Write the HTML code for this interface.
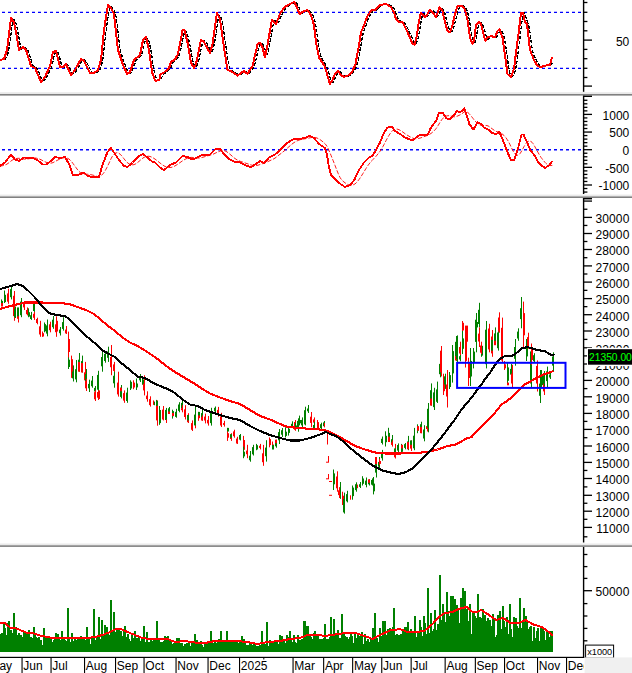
<!DOCTYPE html>
<html><head><meta charset="utf-8"><title>Chart</title>
<style>html,body{margin:0;padding:0;background:#fff;font-family:"Liberation Sans",sans-serif;}svg{display:block}</style></head>
<body>
<svg width="632" height="673" viewBox="0 0 632 673" font-family="'Liberation Sans', sans-serif">
<rect x="0" y="0" width="632" height="673" fill="#fff"/>
<rect x="582.9" y="0.0" width="1.4" height="91.8" fill="#000"/>
<rect x="583.5" y="1.85" width="3.9" height="1.3" fill="#000"/>
<rect x="583.5" y="11.65" width="3.9" height="1.3" fill="#000"/>
<rect x="583.5" y="20.85" width="3.9" height="1.3" fill="#000"/>
<rect x="583.5" y="30.15" width="3.9" height="1.3" fill="#000"/>
<rect x="583.5" y="39.45" width="8.5" height="1.3" fill="#000"/>
<rect x="583.5" y="48.75" width="3.9" height="1.3" fill="#000"/>
<rect x="583.5" y="58.05" width="3.9" height="1.3" fill="#000"/>
<rect x="583.5" y="67.65" width="3.9" height="1.3" fill="#000"/>
<rect x="583.5" y="76.85" width="3.9" height="1.3" fill="#000"/>
<rect x="583.5" y="85.45" width="8.5" height="1.3" fill="#000"/>
<text x="629.3" y="45.8" font-size="12" text-anchor="end" fill="#000" >50</text>
<line x1="2" y1="12.4" x2="581.0" y2="12.4" stroke="#0000ff" stroke-width="1.4" stroke-dasharray="3,3"/>
<line x1="2" y1="68.4" x2="581.0" y2="68.4" stroke="#0000ff" stroke-width="1.4" stroke-dasharray="3,3"/>
<polyline points="0.0,60.0 1.0,60.0 2.0,59.9 3.0,59.8 4.0,59.5 5.0,59.2 6.0,58.1 7.0,56.0 8.0,53.0 9.0,48.3 10.0,42.0 11.0,34.0 12.0,26.0 13.0,21.1 14.0,19.3 15.0,20.7 16.0,23.3 17.0,27.3 18.0,32.7 19.0,38.2 20.0,44.0 21.0,47.8 22.0,49.2 23.0,48.5 24.0,47.8 25.0,47.6 26.0,48.0 27.0,49.0 28.0,50.7 29.0,53.2 30.0,56.4 31.0,59.6 32.0,62.8 33.0,65.1 34.0,66.5 35.0,67.0 36.0,67.5 37.0,68.6 38.0,70.3 39.0,72.7 40.0,75.0 41.0,77.3 42.0,79.7 43.0,80.8 44.0,80.8 45.0,79.5 46.0,78.2 47.0,76.7 48.0,74.8 49.0,72.6 50.0,70.4 51.0,68.2 52.0,65.2 53.0,61.3 54.0,56.7 55.0,53.4 56.0,51.7 57.0,51.3 58.0,52.4 59.0,55.0 60.0,59.0 61.0,63.0 62.0,65.7 63.0,67.0 64.0,67.0 65.0,66.7 66.0,66.0 67.0,65.0 68.0,65.1 69.0,66.2 70.0,68.4 71.0,70.6 72.0,72.8 73.0,73.9 74.0,73.8 75.0,72.5 76.0,71.2 77.0,69.8 78.0,68.2 79.0,66.3 80.0,64.5 81.0,62.7 82.0,60.8 83.0,59.8 84.0,59.7 85.0,60.3 86.0,61.4 87.0,63.0 88.0,65.0 89.0,67.0 90.0,69.0 91.0,71.0 92.0,72.3 93.0,73.0 94.0,73.0 95.0,73.0 96.0,72.8 97.0,72.2 98.0,71.5 99.0,70.8 100.0,69.1 101.0,66.7 102.0,63.3 103.0,57.8 104.0,50.0 105.0,40.0 106.0,31.2 107.0,23.8 108.0,17.5 109.0,11.2 110.0,7.4 111.0,6.0 112.0,7.0 113.0,8.3 114.0,10.0 115.0,12.0 116.0,16.3 117.0,23.0 118.0,32.0 119.0,41.0 120.0,48.0 121.0,53.0 122.0,56.0 123.0,59.0 124.0,62.0 125.0,64.8 126.0,67.2 127.0,69.5 128.0,71.8 129.0,73.0 130.0,73.3 131.0,72.7 132.0,71.2 133.0,69.0 134.0,66.0 135.0,63.0 136.0,60.7 137.0,59.2 138.0,58.3 139.0,57.5 140.0,56.7 141.0,55.8 142.0,53.6 143.0,50.0 144.0,45.0 145.0,41.3 146.0,39.0 147.0,38.0 148.0,38.8 149.0,41.3 150.0,45.7 151.0,51.0 152.0,57.3 153.0,64.7 154.0,70.4 155.0,74.7 156.0,77.3 157.0,79.4 158.0,80.5 159.0,80.6 160.0,80.1 161.0,79.0 162.0,77.0 163.0,75.0 164.0,73.6 165.0,73.1 166.0,72.4 167.0,71.6 168.0,70.7 169.0,69.8 170.0,68.9 171.0,67.3 172.0,65.0 173.0,62.8 174.0,61.4 175.0,60.8 176.0,60.1 177.0,59.1 178.0,57.7 179.0,55.8 180.0,52.9 181.0,48.8 182.0,43.6 183.0,38.3 184.0,33.9 185.0,31.2 186.0,30.9 187.0,32.8 188.0,36.3 189.0,40.7 190.0,45.6 191.0,51.1 192.0,56.8 193.0,61.2 194.0,64.3 195.0,66.2 196.0,66.7 197.0,66.0 198.0,63.1 199.0,59.2 200.0,54.4 201.0,49.6 202.0,44.8 203.0,41.8 204.0,40.7 205.0,41.3 206.0,42.4 207.0,43.8 208.0,45.7 209.0,47.5 210.0,49.3 211.0,51.2 212.0,51.2 213.0,49.4 214.0,45.3 215.0,40.0 216.0,33.7 217.0,26.8 218.0,19.9 219.0,16.0 220.0,15.0 221.0,17.0 222.0,20.7 223.0,26.1 224.0,33.2 225.0,40.4 226.0,47.3 227.0,53.9 228.0,60.4 229.0,65.8 230.0,69.1 231.0,70.4 232.0,70.7 233.0,71.1 234.0,71.7 235.0,72.4 236.0,73.1 237.0,73.8 238.0,74.5 239.0,74.9 240.0,74.9 241.0,74.5 242.0,73.8 243.0,73.1 244.0,72.4 245.0,71.7 246.0,71.5 247.0,71.9 248.0,72.7 249.0,73.2 250.0,72.8 251.0,71.6 252.0,70.0 253.0,68.4 254.0,66.3 255.0,63.4 256.0,59.6 257.0,55.2 258.0,50.9 259.0,47.2 260.0,44.7 261.0,43.3 262.0,43.4 263.0,44.5 264.0,46.8 265.0,49.8 266.0,53.5 267.0,54.5 268.0,52.5 269.0,47.4 270.0,42.1 271.0,36.5 272.0,30.8 273.0,25.2 274.0,21.8 275.0,20.6 276.0,21.8 277.0,22.9 278.0,22.8 279.0,21.5 280.0,19.0 281.0,16.5 282.0,14.3 283.0,12.4 284.0,10.8 285.0,9.1 286.0,7.8 287.0,6.9 288.0,6.3 289.0,5.7 290.0,5.1 291.0,4.5 292.0,4.0 293.0,3.5 294.0,3.0 295.0,2.5 296.0,2.7 297.0,3.5 298.0,5.4 299.0,7.6 300.0,10.1 301.0,12.2 302.0,13.1 303.0,13.0 304.0,12.3 305.0,11.7 306.0,11.1 307.0,10.7 308.0,10.4 309.0,10.4 310.0,11.0 311.0,12.1 312.0,13.6 313.0,15.6 314.0,18.3 315.0,21.7 316.0,26.8 317.0,33.8 318.0,41.2 319.0,47.5 320.0,52.5 321.0,56.3 322.0,59.0 323.0,60.5 324.0,62.0 325.0,63.5 326.0,65.3 327.0,67.5 328.0,70.4 329.0,73.8 330.0,77.3 331.0,80.8 332.0,82.4 333.0,82.4 334.0,80.7 335.0,78.7 336.0,76.4 337.0,74.5 338.0,73.0 339.0,72.0 340.0,71.8 341.0,72.3 342.0,73.7 343.0,74.8 344.0,75.7 345.0,76.3 346.0,76.6 347.0,76.6 348.0,76.2 349.0,75.8 350.0,75.4 351.0,74.8 352.0,73.9 353.0,72.7 354.0,71.4 355.0,69.6 356.0,67.5 357.0,64.7 358.0,60.8 359.0,55.9 360.0,50.4 361.0,44.7 362.0,38.8 363.0,33.8 364.0,30.1 365.0,27.6 366.0,25.2 367.0,22.6 368.0,20.0 369.0,17.5 370.0,15.4 371.0,13.6 372.0,12.1 373.0,11.0 374.0,10.4 375.0,10.2 376.0,10.1 377.0,9.7 378.0,9.0 379.0,8.0 380.0,7.0 381.0,6.0 382.0,5.3 383.0,4.8 384.0,4.7 385.0,4.5 386.0,4.3 387.0,4.2 388.0,4.3 389.0,4.6 390.0,5.2 391.0,5.8 392.0,6.4 393.0,7.4 394.0,8.8 395.0,10.7 396.0,13.0 397.0,15.8 398.0,18.2 399.0,19.9 400.0,20.8 401.0,21.6 402.0,22.1 403.0,22.3 404.0,22.5 405.0,23.4 406.0,25.0 407.0,27.0 408.0,29.0 409.0,31.1 410.0,33.2 411.0,35.4 412.0,37.7 413.0,40.1 414.0,42.3 415.0,43.7 416.0,43.7 417.0,41.9 418.0,38.8 419.0,33.9 420.0,28.0 421.0,21.9 422.0,16.8 423.0,14.3 424.0,13.8 425.0,15.0 426.0,16.2 427.0,16.6 428.0,16.1 429.0,14.6 430.0,13.0 431.0,11.3 432.0,10.5 433.0,10.6 434.0,11.8 435.0,12.9 436.0,14.2 437.0,15.8 438.0,16.0 439.0,14.6 440.0,11.8 441.0,9.6 442.0,8.8 443.0,9.3 444.0,11.0 445.0,13.9 446.0,17.9 447.0,22.1 448.0,25.9 449.0,28.8 450.0,30.8 451.0,31.9 452.0,31.3 453.0,29.5 454.0,26.3 455.0,22.6 456.0,18.4 457.0,14.4 458.0,10.8 459.0,8.1 460.0,6.5 461.0,6.0 462.0,6.0 463.0,6.0 464.0,6.3 465.0,7.1 466.0,8.4 467.0,10.8 468.0,14.0 469.0,18.5 470.0,24.0 471.0,30.5 472.0,36.0 473.0,40.1 474.0,41.9 475.0,42.2 476.0,39.0 477.0,33.0 478.0,27.3 479.0,24.0 480.0,23.0 481.0,22.7 482.0,23.0 483.0,25.0 484.0,28.0 485.0,32.0 486.0,35.8 487.0,38.5 488.0,39.3 489.0,38.6 490.0,37.5 491.0,36.9 492.0,36.4 493.0,36.3 494.0,36.4 495.0,36.8 496.0,37.1 497.0,36.5 498.0,34.9 499.0,32.6 500.0,30.9 501.0,30.4 502.0,31.4 503.0,33.5 504.0,36.9 505.0,41.7 506.0,48.0 507.0,55.2 508.0,62.6 509.0,69.1 510.0,73.3 511.0,75.3 512.0,76.1 513.0,75.8 514.0,74.3 515.0,71.7 516.0,67.1 517.0,60.8 518.0,52.8 519.0,45.0 520.0,37.5 521.0,29.6 522.0,21.2 523.0,15.5 524.0,12.8 525.0,14.4 526.0,17.5 527.0,20.8 528.0,23.0 529.0,26.6 530.0,32.7 531.0,41.3 532.0,47.9 533.0,52.5 534.0,55.0 535.0,57.5 536.0,59.7 537.0,61.7 538.0,63.4 539.0,64.9 540.0,65.9 541.0,66.4 542.0,66.7 543.0,66.8 544.0,66.7 545.0,66.4 546.0,66.1 547.0,65.8 548.0,65.6 549.0,65.4 550.0,65.2 551.0,65.1 552.0,63.8" fill="none" stroke="#000" stroke-width="1.3" stroke-linejoin="round" stroke-linecap="round" shape-rendering="crispEdges" stroke-dasharray="2.5,2.5"/>
<polyline points="0.0,60.0 4.0,59.0 7.0,50.0 11.0,18.0 14.0,22.0 17.0,38.0 19.0,50.0 23.0,47.0 26.0,50.0 31.0,66.0 35.0,68.0 41.0,82.0 45.0,77.0 50.0,66.0 53.0,52.0 56.0,51.0 60.0,67.0 63.0,67.0 66.0,64.0 71.0,75.0 75.0,70.0 81.0,59.0 84.0,61.0 90.0,73.0 94.0,73.0 98.0,70.0 101.0,60.0 104.0,30.0 108.0,5.0 111.0,8.0 114.0,14.0 118.0,50.0 123.0,65.0 127.0,74.0 130.0,72.0 134.0,60.0 140.0,55.0 143.0,40.0 146.0,37.0 149.0,50.0 152.0,72.0 155.0,80.0 156.0,81.0 159.5,79.5 160.5,74.5 164.0,72.5 169.0,68.0 171.0,62.0 175.0,59.5 178.0,54.0 182.5,30.5 184.5,30.0 187.5,42.5 191.0,62.5 194.0,68.0 196.0,64.0 201.0,40.0 204.0,42.0 210.0,53.0 212.5,44.0 217.0,13.0 220.0,19.0 224.0,47.5 227.5,70.0 231.0,71.0 237.5,75.5 244.0,71.0 247.5,74.0 252.5,66.0 257.5,44.5 260.0,42.5 262.5,47.5 265.0,57.5 267.5,45.0 272.0,19.5 276.0,24.0 280.0,14.0 284.0,7.5 289.0,4.5 294.0,2.0 296.0,5.0 299.5,14.0 304.0,11.0 307.5,10.0 311.0,15.0 314.0,25.0 316.0,42.5 319.0,57.5 324.0,65.0 326.0,70.0 328.0,77.5 330.0,84.0 332.5,80.0 335.0,74.0 338.0,71.0 341.0,75.0 344.0,77.0 349.0,75.0 352.5,71.0 355.5,64.0 359.0,45.0 361.0,32.5 364.5,24.0 367.5,16.0 371.0,10.5 375.0,10.0 380.0,5.0 386.0,4.0 391.0,7.0 394.0,12.5 396.0,19.0 400.0,22.5 402.5,22.0 406.0,29.0 410.0,37.5 412.5,44.0 414.5,44.5 417.0,35.0 419.0,21.0 421.0,12.5 425.0,17.5 427.5,14.0 430.0,9.5 434.0,14.0 436.0,17.5 439.5,7.5 442.5,11.0 445.0,22.5 447.5,31.0 450.0,32.5 452.5,25.0 455.0,14.0 457.5,6.0 462.5,6.0 465.0,10.0 467.5,20.0 470.0,37.5 472.5,44.0 474.0,41.0 476.0,25.0 479.0,22.0 481.0,24.0 484.0,36.0 485.5,41.0 487.5,37.5 491.0,36.0 495.0,37.5 497.5,31.0 499.5,29.5 502.5,37.5 505.0,55.0 507.5,74.0 511.0,77.0 514.0,69.0 516.0,52.5 519.0,30.0 521.0,12.5 523.0,13.0 525.0,22.0 527.0,24.0 530.0,50.0 534.0,60.0 537.5,66.0 541.0,67.0 546.0,65.5 550.0,65.0 552.0,57.5" fill="none" stroke="#ff0000" stroke-width="2.0" stroke-linejoin="round" stroke-linecap="round" shape-rendering="crispEdges" />
<rect x="0" y="92.2" width="632" height="1.8" fill="#e9e9e9"/>
<rect x="0" y="94.0" width="632" height="1.6" fill="#808080"/>
<rect x="582.9" y="95.6" width="1.4" height="98.4" fill="#000"/>
<rect x="583.5" y="95.6" width="8.5" height="1.4" fill="#000"/>
<rect x="583.5" y="191.41" width="3.9" height="1.3" fill="#000"/>
<rect x="583.5" y="187.88" width="3.9" height="1.3" fill="#000"/>
<rect x="583.5" y="184.35" width="8.5" height="1.3" fill="#000"/>
<rect x="583.5" y="180.82" width="3.9" height="1.3" fill="#000"/>
<rect x="583.5" y="177.29" width="3.9" height="1.3" fill="#000"/>
<rect x="583.5" y="173.76" width="3.9" height="1.3" fill="#000"/>
<rect x="583.5" y="170.23" width="3.9" height="1.3" fill="#000"/>
<rect x="583.5" y="166.70" width="8.5" height="1.3" fill="#000"/>
<rect x="583.5" y="163.17" width="3.9" height="1.3" fill="#000"/>
<rect x="583.5" y="159.64" width="3.9" height="1.3" fill="#000"/>
<rect x="583.5" y="156.11" width="3.9" height="1.3" fill="#000"/>
<rect x="583.5" y="152.58" width="3.9" height="1.3" fill="#000"/>
<rect x="583.5" y="149.05" width="8.5" height="1.3" fill="#000"/>
<rect x="583.5" y="145.52" width="3.9" height="1.3" fill="#000"/>
<rect x="583.5" y="141.99" width="3.9" height="1.3" fill="#000"/>
<rect x="583.5" y="138.46" width="3.9" height="1.3" fill="#000"/>
<rect x="583.5" y="134.93" width="3.9" height="1.3" fill="#000"/>
<rect x="583.5" y="131.40" width="8.5" height="1.3" fill="#000"/>
<rect x="583.5" y="127.87" width="3.9" height="1.3" fill="#000"/>
<rect x="583.5" y="124.34" width="3.9" height="1.3" fill="#000"/>
<rect x="583.5" y="120.81" width="3.9" height="1.3" fill="#000"/>
<rect x="583.5" y="117.28" width="3.9" height="1.3" fill="#000"/>
<rect x="583.5" y="113.75" width="8.5" height="1.3" fill="#000"/>
<rect x="583.5" y="110.22" width="3.9" height="1.3" fill="#000"/>
<rect x="583.5" y="106.69" width="3.9" height="1.3" fill="#000"/>
<rect x="583.5" y="103.16" width="3.9" height="1.3" fill="#000"/>
<rect x="583.5" y="99.63" width="3.9" height="1.3" fill="#000"/>
<text x="629.3" y="119.6" font-size="12" text-anchor="end" fill="#000" >1000</text>
<text x="629.3" y="137.2" font-size="12" text-anchor="end" fill="#000" >500</text>
<text x="629.3" y="154.9" font-size="12" text-anchor="end" fill="#000" >0</text>
<text x="629.3" y="172.5" font-size="12" text-anchor="end" fill="#000" >-500</text>
<text x="629.3" y="190.2" font-size="12" text-anchor="end" fill="#000" >-1000</text>
<line x1="2" y1="149.7" x2="581.0" y2="149.7" stroke="#0000ff" stroke-width="1.4" stroke-dasharray="3,3"/>
<polyline points="0.0,166.0 1.0,165.9 2.0,165.8 3.0,165.6 4.0,165.3 5.0,165.0 6.0,164.6 7.0,164.1 8.0,163.4 9.0,162.7 10.0,161.9 11.0,161.0 12.0,160.3 13.0,159.7 14.0,159.2 15.0,158.9 16.0,158.6 17.0,158.4 18.0,158.3 19.0,158.3 20.0,158.4 21.0,158.5 22.0,158.7 23.0,158.9 24.0,159.1 25.0,159.1 26.0,159.1 27.0,159.1 28.0,158.9 29.0,158.7 30.0,158.5 31.0,158.3 32.0,158.1 33.0,158.0 34.0,158.0 35.0,158.0 36.0,158.1 37.0,158.3 38.0,158.6 39.0,158.9 40.0,159.3 41.0,159.7 42.0,160.3 43.0,160.8 44.0,161.3 45.0,161.8 46.0,162.2 47.0,162.6 48.0,162.8 49.0,163.0 50.0,163.1 51.0,163.1 52.0,162.9 53.0,162.6 54.0,162.1 55.0,161.6 56.0,161.0 57.0,160.5 58.0,159.9 59.0,159.5 60.0,159.0 61.0,158.7 62.0,158.3 63.0,158.0 64.0,157.7 65.0,157.6 66.0,157.7 67.0,158.0 68.0,158.5 69.0,159.1 70.0,159.9 71.0,160.9 72.0,162.2 73.0,163.5 74.0,164.9 75.0,166.2 76.0,167.6 77.0,169.0 78.0,170.2 79.0,171.4 80.0,172.3 81.0,173.1 82.0,173.7 83.0,174.1 84.0,174.2 85.0,174.2 86.0,174.2 87.0,174.2 88.0,174.3 89.0,174.4 90.0,174.6 91.0,174.7 92.0,174.9 93.0,175.2 94.0,175.4 95.0,175.7 96.0,176.1 97.0,176.4 98.0,176.6 99.0,176.6 100.0,176.3 101.0,175.7 102.0,174.9 103.0,173.8 104.0,172.5 105.0,171.0 106.0,169.2 107.0,167.3 108.0,165.3 109.0,163.2 110.0,161.0 111.0,158.8 112.0,156.9 113.0,155.4 114.0,154.2 115.0,153.4 116.0,152.9 117.0,152.7 118.0,152.9 119.0,153.4 120.0,154.1 121.0,155.1 122.0,156.2 123.0,157.5 124.0,158.8 125.0,160.0 126.0,161.2 127.0,162.3 128.0,163.1 129.0,163.8 130.0,164.3 131.0,164.6 132.0,164.8 133.0,164.8 134.0,164.6 135.0,164.2 136.0,163.7 137.0,163.0 138.0,162.2 139.0,161.4 140.0,160.5 141.0,159.6 142.0,158.8 143.0,158.0 144.0,157.4 145.0,156.9 146.0,156.5 147.0,156.3 148.0,156.2 149.0,156.3 150.0,156.5 151.0,156.8 152.0,157.3 153.0,157.8 154.0,158.4 155.0,159.1 156.0,159.8 157.0,160.6 158.0,161.4 159.0,162.2 160.0,163.0 161.0,163.7 162.0,164.5 163.0,165.2 164.0,165.9 165.0,166.4 166.0,166.8 167.0,167.2 168.0,167.4 169.0,167.5 170.0,167.5 171.0,167.4 172.0,167.2 173.0,166.8 174.0,166.4 175.0,165.9 176.0,165.3 177.0,164.7 178.0,164.0 179.0,163.3 180.0,162.6 181.0,161.9 182.0,161.2 183.0,160.5 184.0,159.9 185.0,159.4 186.0,158.8 187.0,158.4 188.0,158.0 189.0,157.7 190.0,157.5 191.0,157.4 192.0,157.4 193.0,157.5 194.0,157.6 195.0,157.8 196.0,157.9 197.0,158.0 198.0,158.0 199.0,158.0 200.0,157.9 201.0,157.7 202.0,157.5 203.0,157.2 204.0,156.9 205.0,156.6 206.0,156.3 207.0,156.0 208.0,155.7 209.0,155.5 210.0,155.2 211.0,154.9 212.0,154.6 213.0,154.2 214.0,153.8 215.0,153.3 216.0,152.8 217.0,152.4 218.0,151.9 219.0,151.5 220.0,151.1 221.0,150.8 222.0,150.6 223.0,150.5 224.0,150.7 225.0,150.9 226.0,151.3 227.0,151.9 228.0,152.7 229.0,153.4 230.0,154.3 231.0,155.1 232.0,156.0 233.0,156.9 234.0,157.8 235.0,158.5 236.0,159.2 237.0,159.8 238.0,160.3 239.0,160.8 240.0,161.2 241.0,161.6 242.0,161.9 243.0,162.2 244.0,162.6 245.0,162.9 246.0,163.3 247.0,163.6 248.0,163.9 249.0,164.3 250.0,164.6 251.0,165.0 252.0,165.2 253.0,165.4 254.0,165.6 255.0,165.6 256.0,165.6 257.0,165.4 258.0,165.2 259.0,164.9 260.0,164.5 261.0,164.1 262.0,163.8 263.0,163.5 264.0,163.2 265.0,162.8 266.0,162.5 267.0,162.0 268.0,161.6 269.0,161.1 270.0,160.6 271.0,160.2 272.0,159.7 273.0,159.3 274.0,158.7 275.0,158.1 276.0,157.4 277.0,156.6 278.0,155.8 279.0,155.0 280.0,154.2 281.0,153.5 282.0,152.7 283.0,151.9 284.0,151.1 285.0,150.2 286.0,149.4 287.0,148.5 288.0,147.5 289.0,146.7 290.0,145.8 291.0,144.9 292.0,144.1 293.0,143.3 294.0,142.6 295.0,142.0 296.0,141.4 297.0,140.9 298.0,140.5 299.0,140.1 300.0,139.8 301.0,139.5 302.0,139.3 303.0,139.1 304.0,138.9 305.0,138.8 306.0,138.6 307.0,138.4 308.0,138.2 309.0,138.0 310.0,137.8 311.0,137.6 312.0,137.5 313.0,137.4 314.0,137.4 315.0,137.5 316.0,137.7 317.0,138.0 318.0,138.5 319.0,139.0 320.0,139.6 321.0,140.3 322.0,141.1 323.0,141.9 324.0,142.8 325.0,143.7 326.0,144.9 327.0,146.4 328.0,148.3 329.0,150.5 330.0,152.9 331.0,155.3 332.0,157.8 333.0,160.3 334.0,162.8 335.0,165.4 336.0,168.0 337.0,170.6 338.0,173.1 339.0,175.4 340.0,177.4 341.0,179.0 342.0,180.2 343.0,181.2 344.0,182.0 345.0,182.8 346.0,183.5 347.0,184.1 348.0,184.6 349.0,184.9 350.0,185.1 351.0,185.2 352.0,185.1 353.0,184.9 354.0,184.5 355.0,183.9 356.0,183.1 357.0,182.0 358.0,180.8 359.0,179.5 360.0,178.1 361.0,176.6 362.0,175.0 363.0,173.4 364.0,171.8 365.0,170.1 366.0,168.5 367.0,166.9 368.0,165.4 369.0,164.1 370.0,162.8 371.0,161.6 372.0,160.6 373.0,159.5 374.0,158.4 375.0,157.4 376.0,156.3 377.0,155.1 378.0,153.9 379.0,152.7 380.0,151.3 381.0,149.8 382.0,148.2 383.0,146.4 384.0,144.6 385.0,142.6 386.0,140.7 387.0,138.8 388.0,137.0 389.0,135.3 390.0,133.8 391.0,132.4 392.0,131.2 393.0,130.2 394.0,129.6 395.0,129.2 396.0,129.1 397.0,129.1 398.0,129.3 399.0,129.7 400.0,130.2 401.0,130.8 402.0,131.5 403.0,132.2 404.0,132.9 405.0,133.7 406.0,134.4 407.0,135.0 408.0,135.6 409.0,136.2 410.0,136.8 411.0,137.3 412.0,137.8 413.0,138.2 414.0,138.5 415.0,138.7 416.0,138.7 417.0,138.7 418.0,138.5 419.0,138.3 420.0,138.1 421.0,137.8 422.0,137.4 423.0,137.1 424.0,136.7 425.0,136.3 426.0,135.9 427.0,135.6 428.0,135.2 429.0,134.7 430.0,134.1 431.0,133.4 432.0,132.7 433.0,131.8 434.0,130.9 435.0,129.9 436.0,128.7 437.0,127.3 438.0,125.7 439.0,124.0 440.0,122.3 441.0,120.8 442.0,119.4 443.0,118.2 444.0,117.4 445.0,116.7 446.0,116.3 447.0,115.9 448.0,115.7 449.0,115.7 450.0,115.9 451.0,116.1 452.0,116.4 453.0,116.6 454.0,116.8 455.0,116.8 456.0,116.6 457.0,116.3 458.0,115.8 459.0,115.4 460.0,114.9 461.0,114.3 462.0,113.6 463.0,112.9 464.0,112.1 465.0,111.7 466.0,111.7 467.0,111.9 468.0,112.6 469.0,113.5 470.0,114.7 471.0,115.8 472.0,117.1 473.0,118.4 474.0,119.7 475.0,120.9 476.0,122.0 477.0,123.0 478.0,123.9 479.0,124.5 480.0,125.0 481.0,125.3 482.0,125.4 483.0,125.4 484.0,125.5 485.0,125.5 486.0,125.5 487.0,125.6 488.0,125.9 489.0,126.4 490.0,127.2 491.0,127.9 492.0,128.7 493.0,129.4 494.0,130.1 495.0,130.8 496.0,131.3 497.0,131.7 498.0,132.0 499.0,132.2 500.0,132.6 501.0,133.2 502.0,133.8 503.0,134.6 504.0,135.5 505.0,136.6 506.0,137.8 507.0,139.3 508.0,140.8 509.0,142.6 510.0,144.6 511.0,146.8 512.0,148.9 513.0,150.9 514.0,152.6 515.0,153.9 516.0,154.8 517.0,155.2 518.0,155.2 519.0,154.7 520.0,153.6 521.0,152.1 522.0,150.4 523.0,148.5 524.0,146.6 525.0,145.0 526.0,143.5 527.0,142.3 528.0,141.5 529.0,141.1 530.0,141.1 531.0,141.5 532.0,142.3 533.0,143.5 534.0,145.2 535.0,146.9 536.0,148.8 537.0,150.6 538.0,152.4 539.0,154.2 540.0,155.8 541.0,157.4 542.0,158.7 543.0,160.0 544.0,161.2 545.0,162.4 546.0,163.4 547.0,164.2 548.0,164.9 549.0,165.3 550.0,165.6 551.0,165.5 552.0,165.4" fill="none" stroke="#ff0000" stroke-width="0.9" stroke-linejoin="round" stroke-linecap="round" shape-rendering="crispEdges" stroke-dasharray="3.5,2.5"/>
<polyline points="0.0,166.0 5.0,162.5 11.0,154.5 15.0,159.5 19.0,161.0 24.0,157.5 32.5,158.0 37.5,160.0 42.5,164.5 46.0,164.5 51.0,161.0 55.0,157.0 60.0,158.0 65.0,157.0 69.0,164.0 73.0,175.5 79.0,174.5 84.0,172.5 87.5,176.0 92.5,177.0 99.0,177.0 101.0,170.0 104.0,161.0 107.5,152.0 111.0,148.0 114.0,152.5 119.0,160.0 124.0,166.0 127.5,167.0 132.5,162.5 139.0,156.0 143.0,154.0 147.5,157.5 152.5,162.0 155.0,162.5 160.0,167.5 164.0,170.0 170.0,165.0 176.0,162.5 182.5,156.0 187.5,157.0 192.5,159.5 196.0,158.0 201.0,155.5 210.0,154.5 215.5,149.0 220.0,149.0 224.0,154.0 229.0,159.0 235.0,162.0 240.0,162.5 246.0,165.5 251.0,167.0 256.0,164.0 260.0,161.0 264.5,163.0 269.0,157.5 275.0,154.5 280.0,150.0 286.0,144.0 292.5,139.5 299.0,139.0 305.0,138.0 309.5,136.0 314.0,138.0 319.0,144.0 325.0,148.0 327.0,155.0 329.0,167.5 331.0,175.0 335.0,179.0 339.0,183.0 345.0,187.0 350.0,185.0 354.0,180.5 359.0,170.0 364.0,162.5 369.0,157.5 372.5,155.5 376.0,150.0 380.0,142.5 384.0,132.5 387.5,127.5 392.0,127.0 395.0,131.0 400.0,134.0 405.0,137.5 412.5,140.5 416.0,137.5 420.0,135.0 427.5,135.0 431.0,127.5 436.0,121.0 439.0,113.0 442.5,112.5 446.0,118.0 450.0,119.5 454.0,115.0 457.0,111.0 460.0,112.5 464.5,108.5 466.5,114.5 469.5,124.5 473.5,129.5 477.5,122.0 481.5,124.5 484.5,128.0 489.0,130.0 492.0,133.0 496.0,134.0 499.5,132.0 503.0,140.5 507.5,152.0 511.0,160.5 514.0,160.0 517.5,150.5 521.5,134.5 523.5,134.5 527.0,142.0 530.5,150.5 535.0,156.0 539.0,163.5 545.0,168.0 549.5,165.0 552.0,161.5" fill="none" stroke="#ff0000" stroke-width="1.9" stroke-linejoin="round" stroke-linecap="round" shape-rendering="crispEdges" />
<rect x="0" y="194.6" width="632" height="1.8" fill="#e9e9e9"/>
<rect x="0" y="196.4" width="632" height="1.6" fill="#808080"/>
<rect x="582.9" y="198.0" width="1.4" height="344.5" fill="#000"/>
<rect x="583.5" y="198" width="8.5" height="1.4" fill="#000"/>
<rect x="583.5" y="200.43" width="8.5" height="1.3" fill="#000"/>
<rect x="583.5" y="208.59" width="3.9" height="1.3" fill="#000"/>
<rect x="583.5" y="216.75" width="8.5" height="1.3" fill="#000"/>
<rect x="583.5" y="224.80" width="3.9" height="1.3" fill="#000"/>
<rect x="583.5" y="232.85" width="8.5" height="1.3" fill="#000"/>
<rect x="583.5" y="240.85" width="3.9" height="1.3" fill="#000"/>
<rect x="583.5" y="248.85" width="8.5" height="1.3" fill="#000"/>
<rect x="583.5" y="257.05" width="3.9" height="1.3" fill="#000"/>
<rect x="583.5" y="265.25" width="8.5" height="1.3" fill="#000"/>
<rect x="583.5" y="273.35" width="3.9" height="1.3" fill="#000"/>
<rect x="583.5" y="281.45" width="8.5" height="1.3" fill="#000"/>
<rect x="583.5" y="289.70" width="3.9" height="1.3" fill="#000"/>
<rect x="583.5" y="297.95" width="8.5" height="1.3" fill="#000"/>
<rect x="583.5" y="306.00" width="3.9" height="1.3" fill="#000"/>
<rect x="583.5" y="314.05" width="8.5" height="1.3" fill="#000"/>
<rect x="583.5" y="322.20" width="3.9" height="1.3" fill="#000"/>
<rect x="583.5" y="330.35" width="8.5" height="1.3" fill="#000"/>
<rect x="583.5" y="338.75" width="3.9" height="1.3" fill="#000"/>
<rect x="583.5" y="347.15" width="8.5" height="1.3" fill="#000"/>
<rect x="583.5" y="355.25" width="3.9" height="1.3" fill="#000"/>
<rect x="583.5" y="363.35" width="8.5" height="1.3" fill="#000"/>
<rect x="583.5" y="371.55" width="3.9" height="1.3" fill="#000"/>
<rect x="583.5" y="379.75" width="8.5" height="1.3" fill="#000"/>
<rect x="583.5" y="387.95" width="3.9" height="1.3" fill="#000"/>
<rect x="583.5" y="396.15" width="8.5" height="1.3" fill="#000"/>
<rect x="583.5" y="404.45" width="3.9" height="1.3" fill="#000"/>
<rect x="583.5" y="412.75" width="8.5" height="1.3" fill="#000"/>
<rect x="583.5" y="420.75" width="3.9" height="1.3" fill="#000"/>
<rect x="583.5" y="428.75" width="8.5" height="1.3" fill="#000"/>
<rect x="583.5" y="437.05" width="3.9" height="1.3" fill="#000"/>
<rect x="583.5" y="445.35" width="8.5" height="1.3" fill="#000"/>
<rect x="583.5" y="453.55" width="3.9" height="1.3" fill="#000"/>
<rect x="583.5" y="461.75" width="8.5" height="1.3" fill="#000"/>
<rect x="583.5" y="469.80" width="3.9" height="1.3" fill="#000"/>
<rect x="583.5" y="477.85" width="8.5" height="1.3" fill="#000"/>
<rect x="583.5" y="486.25" width="3.9" height="1.3" fill="#000"/>
<rect x="583.5" y="494.65" width="8.5" height="1.3" fill="#000"/>
<rect x="583.5" y="502.60" width="3.9" height="1.3" fill="#000"/>
<rect x="583.5" y="510.55" width="8.5" height="1.3" fill="#000"/>
<rect x="583.5" y="518.65" width="3.9" height="1.3" fill="#000"/>
<rect x="583.5" y="526.75" width="8.5" height="1.3" fill="#000"/>
<rect x="583.5" y="536.15" width="3.9" height="1.3" fill="#000"/>
<text x="629.5" y="533.2" font-size="12" text-anchor="end" fill="#000" letter-spacing="0.15">11000</text>
<text x="629.5" y="517.0" font-size="12" text-anchor="end" fill="#000" letter-spacing="0.15">12000</text>
<text x="629.5" y="501.1" font-size="12" text-anchor="end" fill="#000" letter-spacing="0.15">13000</text>
<text x="629.5" y="484.3" font-size="12" text-anchor="end" fill="#000" letter-spacing="0.15">14000</text>
<text x="629.5" y="468.2" font-size="12" text-anchor="end" fill="#000" letter-spacing="0.15">15000</text>
<text x="629.5" y="451.8" font-size="12" text-anchor="end" fill="#000" letter-spacing="0.15">16000</text>
<text x="629.5" y="435.2" font-size="12" text-anchor="end" fill="#000" letter-spacing="0.15">17000</text>
<text x="629.5" y="419.2" font-size="12" text-anchor="end" fill="#000" letter-spacing="0.15">18000</text>
<text x="629.5" y="402.6" font-size="12" text-anchor="end" fill="#000" letter-spacing="0.15">19000</text>
<text x="629.5" y="386.2" font-size="12" text-anchor="end" fill="#000" letter-spacing="0.15">20000</text>
<text x="629.5" y="369.8" font-size="12" text-anchor="end" fill="#000" letter-spacing="0.15">21000</text>
<text x="629.5" y="353.6" font-size="12" text-anchor="end" fill="#000" letter-spacing="0.15">22000</text>
<text x="629.5" y="336.8" font-size="12" text-anchor="end" fill="#000" letter-spacing="0.15">23000</text>
<text x="629.5" y="320.5" font-size="12" text-anchor="end" fill="#000" letter-spacing="0.15">24000</text>
<text x="629.5" y="304.4" font-size="12" text-anchor="end" fill="#000" letter-spacing="0.15">25000</text>
<text x="629.5" y="287.9" font-size="12" text-anchor="end" fill="#000" letter-spacing="0.15">26000</text>
<text x="629.5" y="271.7" font-size="12" text-anchor="end" fill="#000" letter-spacing="0.15">27000</text>
<text x="629.5" y="255.3" font-size="12" text-anchor="end" fill="#000" letter-spacing="0.15">28000</text>
<text x="629.5" y="239.3" font-size="12" text-anchor="end" fill="#000" letter-spacing="0.15">29000</text>
<text x="629.5" y="223.2" font-size="12" text-anchor="end" fill="#000" letter-spacing="0.15">30000</text>
<rect x="1" y="299.4" width="1" height="6.2" fill="#008000"/>
<rect x="1" y="300.9" width="2" height="4.1" fill="#008000"/>
<rect x="1" y="303.0" width="2" height="3.5" fill="#ff0000"/>
<rect x="4" y="290.5" width="1" height="12.5" fill="#008000"/>
<rect x="4" y="294.8" width="2" height="7.3" fill="#008000"/>
<rect x="8" y="288.7" width="1" height="15.1" fill="#ff0000"/>
<rect x="7" y="293.4" width="2" height="8.3" fill="#ff0000"/>
<rect x="11" y="287.0" width="1" height="12.4" fill="#008000"/>
<rect x="10" y="289.1" width="2" height="8.1" fill="#008000"/>
<rect x="14" y="291.0" width="1" height="29.8" fill="#ff0000"/>
<rect x="13" y="295.8" width="2" height="20.3" fill="#ff0000"/>
<rect x="15" y="306.5" width="1" height="11.5" fill="#008000"/>
<rect x="14" y="308.5" width="2" height="8.7" fill="#008000"/>
<rect x="18" y="308.3" width="1" height="14.2" fill="#ff0000"/>
<rect x="17" y="312.2" width="2" height="6.6" fill="#ff0000"/>
<rect x="17" y="307.4" width="2" height="8.9" fill="#008000"/>
<rect x="21" y="298.0" width="1" height="19.2" fill="#008000"/>
<rect x="20" y="301.6" width="2" height="13.6" fill="#008000"/>
<rect x="24" y="301.0" width="1" height="9.0" fill="#ff0000"/>
<rect x="23" y="304.0" width="2" height="3.4" fill="#ff0000"/>
<rect x="27" y="307.4" width="1" height="8.0" fill="#ff0000"/>
<rect x="26" y="310.0" width="2" height="4.2" fill="#ff0000"/>
<rect x="28" y="308.3" width="1" height="8.9" fill="#008000"/>
<rect x="28" y="312.2" width="2" height="4.4" fill="#008000"/>
<rect x="31" y="311.9" width="1" height="8.0" fill="#008000"/>
<rect x="30" y="315.2" width="2" height="3.8" fill="#008000"/>
<rect x="34" y="301.0" width="1" height="10.9" fill="#008000"/>
<rect x="33" y="303.1" width="2" height="7.9" fill="#008000"/>
<rect x="34" y="311.9" width="1" height="8.0" fill="#ff0000"/>
<rect x="33" y="313.8" width="2" height="4.0" fill="#ff0000"/>
<rect x="37" y="317.7" width="1" height="6.6" fill="#ff0000"/>
<rect x="36" y="319.0" width="2" height="4.0" fill="#ff0000"/>
<rect x="40" y="320.8" width="1" height="16.0" fill="#ff0000"/>
<rect x="39" y="326.3" width="2" height="8.2" fill="#ff0000"/>
<rect x="42" y="331.5" width="1" height="5.3" fill="#ff0000"/>
<rect x="42" y="333.2" width="2" height="3.3" fill="#ff0000"/>
<rect x="44" y="322.5" width="1" height="9.8" fill="#008000"/>
<rect x="44" y="324.1" width="2" height="7.2" fill="#008000"/>
<rect x="47" y="319.5" width="1" height="16.8" fill="#008000"/>
<rect x="46" y="325.4" width="2" height="8.2" fill="#008000"/>
<rect x="50" y="321.7" width="1" height="10.6" fill="#ff0000"/>
<rect x="49" y="324.3" width="2" height="5.9" fill="#ff0000"/>
<rect x="53" y="316.0" width="1" height="12.8" fill="#008000"/>
<rect x="52" y="319.7" width="2" height="7.5" fill="#008000"/>
<rect x="56" y="316.3" width="1" height="20.5" fill="#ff0000"/>
<rect x="55" y="324.3" width="2" height="7.9" fill="#ff0000"/>
<rect x="57" y="320.8" width="1" height="10.7" fill="#ff0000"/>
<rect x="56" y="323.2" width="2" height="6.2" fill="#ff0000"/>
<rect x="60" y="327.0" width="1" height="8.5" fill="#008000"/>
<rect x="59" y="329.6" width="2" height="3.6" fill="#008000"/>
<rect x="63" y="317.2" width="1" height="13.4" fill="#008000"/>
<rect x="62" y="322.1" width="2" height="6.8" fill="#008000"/>
<rect x="66" y="326.0" width="1" height="8.0" fill="#ff0000"/>
<rect x="65" y="329.6" width="2" height="3.8" fill="#ff0000"/>
<rect x="68" y="331.6" width="1" height="26.7" fill="#ff0000"/>
<rect x="68" y="339.0" width="2" height="13.0" fill="#ff0000"/>
<rect x="68" y="357.4" width="1" height="11.6" fill="#008000"/>
<rect x="68" y="359.7" width="2" height="7.3" fill="#008000"/>
<rect x="71" y="355.6" width="1" height="22.3" fill="#ff0000"/>
<rect x="71" y="359.2" width="2" height="13.9" fill="#ff0000"/>
<rect x="73" y="365.4" width="1" height="16.1" fill="#008000"/>
<rect x="72" y="371.5" width="2" height="6.9" fill="#008000"/>
<rect x="76" y="360.0" width="1" height="22.3" fill="#008000"/>
<rect x="75" y="369.2" width="2" height="10.2" fill="#008000"/>
<rect x="79" y="353.0" width="1" height="18.7" fill="#008000"/>
<rect x="78" y="359.7" width="2" height="8.3" fill="#008000"/>
<rect x="78" y="362.0" width="2" height="9.7" fill="#ff0000"/>
<rect x="82" y="355.6" width="1" height="16.9" fill="#008000"/>
<rect x="81" y="361.1" width="2" height="8.7" fill="#008000"/>
<rect x="81" y="363.0" width="2" height="9.5" fill="#ff0000"/>
<rect x="85" y="361.9" width="1" height="25.8" fill="#ff0000"/>
<rect x="84" y="372.3" width="2" height="8.0" fill="#ff0000"/>
<rect x="86" y="369.0" width="1" height="17.0" fill="#008000"/>
<rect x="85" y="374.0" width="2" height="8.4" fill="#008000"/>
<rect x="86" y="378.8" width="1" height="12.2" fill="#ff0000"/>
<rect x="85" y="380.9" width="2" height="7.4" fill="#ff0000"/>
<rect x="89" y="379.7" width="1" height="12.3" fill="#008000"/>
<rect x="88" y="383.9" width="2" height="4.4" fill="#008000"/>
<rect x="92" y="376.0" width="1" height="11.7" fill="#008000"/>
<rect x="91" y="380.6" width="2" height="5.6" fill="#008000"/>
<rect x="95" y="386.0" width="1" height="7.0" fill="#008000"/>
<rect x="94" y="387.9" width="2" height="3.6" fill="#008000"/>
<rect x="95" y="390.4" width="1" height="10.6" fill="#ff0000"/>
<rect x="94" y="392.1" width="2" height="7.2" fill="#ff0000"/>
<rect x="98" y="370.8" width="1" height="20.5" fill="#008000"/>
<rect x="97" y="374.9" width="2" height="14.8" fill="#008000"/>
<rect x="98" y="390.4" width="1" height="9.6" fill="#ff0000"/>
<rect x="97" y="392.0" width="2" height="5.7" fill="#ff0000"/>
<rect x="99" y="390.4" width="1" height="8.6" fill="#ff0000"/>
<rect x="98" y="392.0" width="2" height="6.0" fill="#ff0000"/>
<rect x="102" y="351.7" width="1" height="20.0" fill="#008000"/>
<rect x="101" y="357.0" width="2" height="9.3" fill="#008000"/>
<rect x="105" y="352.0" width="1" height="10.7" fill="#008000"/>
<rect x="104" y="353.9" width="2" height="7.1" fill="#008000"/>
<rect x="108" y="346.7" width="1" height="15.2" fill="#008000"/>
<rect x="107" y="351.5" width="2" height="6.3" fill="#008000"/>
<rect x="111" y="345.0" width="1" height="30.2" fill="#ff0000"/>
<rect x="110" y="357.0" width="2" height="10.2" fill="#ff0000"/>
<rect x="114" y="361.9" width="1" height="10.6" fill="#ff0000"/>
<rect x="113" y="364.4" width="2" height="6.5" fill="#ff0000"/>
<rect x="114" y="371.7" width="1" height="16.0" fill="#008000"/>
<rect x="113" y="375.8" width="2" height="7.5" fill="#008000"/>
<rect x="118" y="371.7" width="1" height="24.9" fill="#ff0000"/>
<rect x="117" y="382.6" width="2" height="11.8" fill="#ff0000"/>
<rect x="121" y="385.0" width="1" height="13.4" fill="#008000"/>
<rect x="120" y="387.7" width="2" height="9.2" fill="#008000"/>
<rect x="120" y="387.7" width="2" height="3.6" fill="#ff0000"/>
<rect x="124" y="390.4" width="1" height="12.4" fill="#ff0000"/>
<rect x="123" y="393.1" width="2" height="7.5" fill="#ff0000"/>
<rect x="127" y="387.7" width="1" height="15.1" fill="#008000"/>
<rect x="126" y="392.6" width="2" height="8.4" fill="#008000"/>
<rect x="130" y="380.3" width="1" height="9.7" fill="#008000"/>
<rect x="130" y="381.8" width="2" height="6.7" fill="#008000"/>
<rect x="133" y="380.3" width="1" height="8.9" fill="#ff0000"/>
<rect x="133" y="382.6" width="2" height="4.9" fill="#ff0000"/>
<rect x="136" y="378.5" width="1" height="11.5" fill="#008000"/>
<rect x="136" y="383.5" width="2" height="3.9" fill="#008000"/>
<rect x="140" y="374.0" width="1" height="8.0" fill="#008000"/>
<rect x="139" y="376.4" width="2" height="3.9" fill="#008000"/>
<rect x="142" y="376.7" width="1" height="8.0" fill="#008000"/>
<rect x="142" y="379.5" width="2" height="4.7" fill="#008000"/>
<rect x="144" y="375.3" width="1" height="20.1" fill="#ff0000"/>
<rect x="143" y="383.7" width="2" height="6.7" fill="#ff0000"/>
<rect x="147" y="391.3" width="1" height="10.4" fill="#ff0000"/>
<rect x="146" y="395.6" width="2" height="3.5" fill="#ff0000"/>
<rect x="150" y="396.3" width="1" height="10.3" fill="#ff0000"/>
<rect x="149" y="399.1" width="2" height="6.0" fill="#ff0000"/>
<rect x="153" y="400.4" width="1" height="4.5" fill="#ff0000"/>
<rect x="154" y="401.6" width="1" height="3.6" fill="#008000"/>
<rect x="157" y="400.4" width="1" height="25.3" fill="#ff0000"/>
<rect x="156" y="405.0" width="2" height="15.4" fill="#ff0000"/>
<rect x="156" y="399.9" width="1" height="6.1" fill="#008000"/>
<rect x="156" y="400.9" width="2" height="4.7" fill="#008000"/>
<rect x="159" y="406.0" width="1" height="18.8" fill="#008000"/>
<rect x="159" y="410.0" width="2" height="13.1" fill="#008000"/>
<rect x="163" y="406.0" width="1" height="14.4" fill="#ff0000"/>
<rect x="162" y="409.6" width="2" height="9.9" fill="#ff0000"/>
<rect x="166" y="407.9" width="1" height="13.3" fill="#008000"/>
<rect x="165" y="409.9" width="2" height="10.1" fill="#008000"/>
<rect x="166" y="419.5" width="1" height="3.5" fill="#ff0000"/>
<rect x="169" y="407.0" width="1" height="7.0" fill="#008000"/>
<rect x="168" y="408.3" width="2" height="4.8" fill="#008000"/>
<rect x="168" y="411.5" width="2" height="2.5" fill="#ff0000"/>
<rect x="172" y="409.7" width="1" height="8.9" fill="#008000"/>
<rect x="172" y="411.1" width="2" height="5.1" fill="#008000"/>
<rect x="172" y="413.0" width="2" height="3.0" fill="#ff0000"/>
<rect x="176" y="408.8" width="1" height="8.9" fill="#008000"/>
<rect x="175" y="411.8" width="2" height="5.1" fill="#008000"/>
<rect x="179" y="402.2" width="1" height="10.1" fill="#008000"/>
<rect x="178" y="404.5" width="2" height="6.4" fill="#008000"/>
<rect x="182" y="400.8" width="1" height="8.0" fill="#008000"/>
<rect x="181" y="402.9" width="2" height="5.3" fill="#008000"/>
<rect x="182" y="405.2" width="1" height="7.1" fill="#ff0000"/>
<rect x="181" y="408.1" width="2" height="2.1" fill="#ff0000"/>
<rect x="185" y="405.2" width="1" height="14.3" fill="#ff0000"/>
<rect x="184" y="409.3" width="2" height="7.7" fill="#ff0000"/>
<rect x="188" y="413.2" width="1" height="9.8" fill="#ff0000"/>
<rect x="187" y="414.9" width="2" height="7.3" fill="#ff0000"/>
<rect x="187" y="415.0" width="2" height="5.4" fill="#008000"/>
<rect x="192" y="420.4" width="1" height="10.6" fill="#ff0000"/>
<rect x="191" y="423.1" width="2" height="6.7" fill="#ff0000"/>
<rect x="195" y="406.2" width="1" height="21.1" fill="#008000"/>
<rect x="194" y="414.6" width="2" height="10.8" fill="#008000"/>
<rect x="195" y="425.5" width="1" height="2.8" fill="#ff0000"/>
<rect x="198" y="411.9" width="1" height="8.9" fill="#ff0000"/>
<rect x="198" y="413.3" width="2" height="4.9" fill="#ff0000"/>
<rect x="198" y="411.9" width="2" height="3.5" fill="#008000"/>
<rect x="202" y="410.0" width="1" height="9.9" fill="#008000"/>
<rect x="201" y="413.1" width="2" height="6.0" fill="#008000"/>
<rect x="202" y="415.4" width="1" height="5.4" fill="#ff0000"/>
<rect x="201" y="417.1" width="2" height="3.4" fill="#ff0000"/>
<rect x="205" y="413.6" width="1" height="9.8" fill="#ff0000"/>
<rect x="204" y="416.6" width="2" height="3.9" fill="#ff0000"/>
<rect x="208" y="416.0" width="1" height="9.6" fill="#ff0000"/>
<rect x="207" y="419.9" width="2" height="3.5" fill="#ff0000"/>
<rect x="211" y="407.8" width="1" height="17.8" fill="#008000"/>
<rect x="210" y="411.9" width="2" height="11.2" fill="#008000"/>
<rect x="215" y="406.5" width="1" height="6.3" fill="#008000"/>
<rect x="214" y="407.8" width="2" height="3.5" fill="#008000"/>
<rect x="218" y="406.9" width="1" height="9.8" fill="#ff0000"/>
<rect x="217" y="409.9" width="2" height="4.4" fill="#ff0000"/>
<rect x="221" y="412.8" width="1" height="14.2" fill="#ff0000"/>
<rect x="220" y="416.3" width="2" height="9.2" fill="#ff0000"/>
<rect x="224" y="420.8" width="1" height="5.8" fill="#ff0000"/>
<rect x="223" y="423.1" width="2" height="1.8" fill="#ff0000"/>
<rect x="227" y="427.9" width="1" height="13.0" fill="#ff0000"/>
<rect x="227" y="433.2" width="2" height="4.5" fill="#ff0000"/>
<rect x="227" y="427.9" width="2" height="3.6" fill="#008000"/>
<rect x="231" y="433.2" width="1" height="7.7" fill="#ff0000"/>
<rect x="230" y="436.2" width="2" height="2.8" fill="#ff0000"/>
<rect x="230" y="434.1" width="2" height="3.6" fill="#008000"/>
<rect x="234" y="429.7" width="1" height="8.0" fill="#ff0000"/>
<rect x="233" y="431.4" width="2" height="4.8" fill="#ff0000"/>
<rect x="237" y="436.8" width="1" height="7.1" fill="#ff0000"/>
<rect x="236" y="438.6" width="2" height="4.9" fill="#ff0000"/>
<rect x="240" y="434.0" width="1" height="6.4" fill="#008000"/>
<rect x="239" y="435.0" width="2" height="4.6" fill="#008000"/>
<rect x="243" y="435.9" width="1" height="17.8" fill="#ff0000"/>
<rect x="243" y="440.0" width="2" height="9.8" fill="#ff0000"/>
<rect x="243" y="446.6" width="1" height="11.6" fill="#008000"/>
<rect x="243" y="451.7" width="2" height="4.7" fill="#008000"/>
<rect x="247" y="444.8" width="1" height="13.4" fill="#ff0000"/>
<rect x="246" y="450.6" width="2" height="3.6" fill="#ff0000"/>
<rect x="250" y="451.0" width="1" height="10.7" fill="#008000"/>
<rect x="249" y="455.7" width="2" height="4.5" fill="#008000"/>
<rect x="253" y="444.8" width="1" height="10.7" fill="#008000"/>
<rect x="252" y="447.1" width="2" height="7.2" fill="#008000"/>
<rect x="256" y="443.9" width="1" height="6.3" fill="#008000"/>
<rect x="256" y="445.2" width="2" height="4.3" fill="#008000"/>
<rect x="260" y="443.9" width="1" height="5.5" fill="#ff0000"/>
<rect x="259" y="445.8" width="2" height="2.1" fill="#ff0000"/>
<rect x="263" y="444.9" width="1" height="20.9" fill="#ff0000"/>
<rect x="262" y="453.3" width="2" height="8.9" fill="#ff0000"/>
<rect x="266" y="440.2" width="1" height="21.4" fill="#008000"/>
<rect x="265" y="447.6" width="2" height="8.6" fill="#008000"/>
<rect x="269" y="437.4" width="1" height="9.9" fill="#ff0000"/>
<rect x="269" y="439.1" width="2" height="6.0" fill="#ff0000"/>
<rect x="272" y="441.5" width="1" height="7.1" fill="#ff0000"/>
<rect x="272" y="444.5" width="2" height="2.4" fill="#ff0000"/>
<rect x="272" y="445.0" width="2" height="4.5" fill="#008000"/>
<rect x="276" y="439.7" width="1" height="8.0" fill="#008000"/>
<rect x="275" y="442.7" width="2" height="3.6" fill="#008000"/>
<rect x="275" y="439.7" width="2" height="3.5" fill="#ff0000"/>
<rect x="279" y="429.0" width="1" height="15.0" fill="#008000"/>
<rect x="278" y="432.1" width="2" height="8.2" fill="#008000"/>
<rect x="282" y="428.0" width="1" height="9.0" fill="#008000"/>
<rect x="281" y="430.2" width="2" height="4.5" fill="#008000"/>
<rect x="285" y="427.2" width="1" height="10.2" fill="#008000"/>
<rect x="285" y="431.7" width="2" height="4.2" fill="#008000"/>
<rect x="288" y="426.3" width="1" height="9.3" fill="#008000"/>
<rect x="288" y="428.8" width="2" height="4.1" fill="#008000"/>
<rect x="292" y="421.3" width="1" height="6.7" fill="#008000"/>
<rect x="291" y="423.8" width="2" height="3.6" fill="#008000"/>
<rect x="295" y="420.0" width="1" height="10.8" fill="#ff0000"/>
<rect x="294" y="422.0" width="2" height="7.8" fill="#ff0000"/>
<rect x="295" y="423.0" width="1" height="6.0" fill="#008000"/>
<rect x="295" y="425.5" width="2" height="2.0" fill="#008000"/>
<rect x="298" y="418.3" width="1" height="13.4" fill="#008000"/>
<rect x="297" y="420.9" width="2" height="7.4" fill="#008000"/>
<rect x="299" y="415.6" width="1" height="9.8" fill="#008000"/>
<rect x="299" y="420.0" width="2" height="3.3" fill="#008000"/>
<rect x="302" y="417.4" width="1" height="9.8" fill="#008000"/>
<rect x="301" y="419.9" width="2" height="5.5" fill="#008000"/>
<rect x="305" y="406.7" width="1" height="18.7" fill="#008000"/>
<rect x="304" y="410.2" width="2" height="14.2" fill="#008000"/>
<rect x="308" y="405.0" width="1" height="8.0" fill="#008000"/>
<rect x="307" y="408.5" width="2" height="2.8" fill="#008000"/>
<rect x="311" y="412.0" width="1" height="15.2" fill="#ff0000"/>
<rect x="310" y="416.7" width="2" height="6.2" fill="#ff0000"/>
<rect x="314" y="417.4" width="1" height="7.1" fill="#ff0000"/>
<rect x="313" y="419.4" width="2" height="3.2" fill="#ff0000"/>
<rect x="314" y="421.8" width="1" height="8.1" fill="#008000"/>
<rect x="313" y="425.0" width="2" height="4.0" fill="#008000"/>
<rect x="317" y="420.0" width="1" height="9.5" fill="#ff0000"/>
<rect x="317" y="422.1" width="2" height="6.2" fill="#ff0000"/>
<rect x="321" y="422.7" width="1" height="6.8" fill="#008000"/>
<rect x="320" y="424.2" width="2" height="4.0" fill="#008000"/>
<rect x="324" y="421.0" width="1" height="6.2" fill="#008000"/>
<rect x="323" y="422.4" width="2" height="3.8" fill="#008000"/>
<rect x="324" y="423.0" width="1" height="4.2" fill="#ff0000"/>
<rect x="327" y="432.0" width="1" height="12.5" fill="#ff0000"/>
<rect x="328" y="456.0" width="1" height="6.7" fill="#ff0000"/>
<rect x="326" y="461.7" width="2" height="1" fill="#ff0000"/>
<rect x="328" y="474.0" width="1" height="5.3" fill="#ff0000"/>
<rect x="326" y="478.3" width="2" height="1" fill="#ff0000"/>
<rect x="329" y="481.0" width="3" height="1" fill="#ff0000"/>
<rect x="329" y="494.8" width="3" height="1" fill="#ff0000"/>
<rect x="333" y="469.5" width="1" height="20.5" fill="#008000"/>
<rect x="333" y="473.4" width="2" height="10.9" fill="#008000"/>
<rect x="337" y="471.3" width="1" height="20.4" fill="#ff0000"/>
<rect x="336" y="476.5" width="2" height="11.8" fill="#ff0000"/>
<rect x="340" y="482.0" width="1" height="16.9" fill="#008000"/>
<rect x="339" y="487.5" width="2" height="6.7" fill="#008000"/>
<rect x="339" y="487.3" width="1" height="10.7" fill="#ff0000"/>
<rect x="338" y="490.3" width="2" height="4.8" fill="#ff0000"/>
<rect x="342" y="491.7" width="1" height="13.3" fill="#ff0000"/>
<rect x="342" y="495.7" width="2" height="6.9" fill="#ff0000"/>
<rect x="344" y="492.6" width="1" height="21.0" fill="#008000"/>
<rect x="343" y="499.0" width="2" height="13.4" fill="#008000"/>
<rect x="347" y="490.8" width="1" height="11.6" fill="#008000"/>
<rect x="346" y="494.1" width="2" height="7.2" fill="#008000"/>
<rect x="350" y="495.3" width="1" height="4.4" fill="#ff0000"/>
<rect x="352" y="485.5" width="1" height="14.2" fill="#008000"/>
<rect x="352" y="487.6" width="2" height="8.5" fill="#008000"/>
<rect x="356" y="482.3" width="1" height="9.4" fill="#008000"/>
<rect x="355" y="484.2" width="2" height="5.9" fill="#008000"/>
<rect x="357" y="484.6" width="1" height="3.6" fill="#ff0000"/>
<rect x="360" y="482.0" width="1" height="6.0" fill="#008000"/>
<rect x="359" y="484.2" width="2" height="2.7" fill="#008000"/>
<rect x="362" y="476.2" width="1" height="9.3" fill="#008000"/>
<rect x="362" y="478.5" width="2" height="5.3" fill="#008000"/>
<rect x="366" y="477.5" width="1" height="9.8" fill="#008000"/>
<rect x="365" y="480.6" width="2" height="4.3" fill="#008000"/>
<rect x="369" y="479.3" width="1" height="6.2" fill="#008000"/>
<rect x="368" y="480.4" width="2" height="3.9" fill="#008000"/>
<rect x="368" y="479.3" width="2" height="3.5" fill="#ff0000"/>
<rect x="372" y="478.4" width="1" height="7.1" fill="#008000"/>
<rect x="371" y="480.0" width="2" height="4.7" fill="#008000"/>
<rect x="373" y="477.0" width="1" height="17.4" fill="#008000"/>
<rect x="373" y="483.6" width="2" height="7.7" fill="#008000"/>
<rect x="376" y="457.0" width="1" height="20.5" fill="#008000"/>
<rect x="375" y="463.5" width="2" height="9.1" fill="#008000"/>
<rect x="375" y="457.0" width="2" height="7.1" fill="#ff0000"/>
<rect x="379" y="457.0" width="1" height="11.6" fill="#008000"/>
<rect x="378" y="461.9" width="2" height="4.8" fill="#008000"/>
<rect x="379" y="459.0" width="1" height="6.0" fill="#ff0000"/>
<rect x="379" y="461.0" width="2" height="2.9" fill="#ff0000"/>
<rect x="382" y="449.9" width="1" height="10.7" fill="#008000"/>
<rect x="381" y="453.1" width="2" height="5.1" fill="#008000"/>
<rect x="382" y="436.5" width="1" height="8.0" fill="#008000"/>
<rect x="381" y="438.8" width="2" height="4.2" fill="#008000"/>
<rect x="385" y="431.3" width="1" height="15.2" fill="#008000"/>
<rect x="385" y="435.8" width="2" height="6.4" fill="#008000"/>
<rect x="388" y="427.8" width="1" height="14.2" fill="#008000"/>
<rect x="388" y="432.9" width="2" height="5.3" fill="#008000"/>
<rect x="388" y="436.7" width="2" height="5.3" fill="#ff0000"/>
<rect x="392" y="435.0" width="1" height="9.8" fill="#008000"/>
<rect x="391" y="439.2" width="2" height="4.4" fill="#008000"/>
<rect x="392" y="440.4" width="1" height="6.2" fill="#ff0000"/>
<rect x="391" y="442.4" width="2" height="2.5" fill="#ff0000"/>
<rect x="395" y="443.9" width="1" height="14.6" fill="#ff0000"/>
<rect x="394" y="449.8" width="2" height="7.5" fill="#ff0000"/>
<rect x="394" y="448.4" width="2" height="5.3" fill="#008000"/>
<rect x="398" y="443.4" width="1" height="8.6" fill="#008000"/>
<rect x="397" y="445.0" width="2" height="5.6" fill="#008000"/>
<rect x="401" y="443.9" width="1" height="8.9" fill="#008000"/>
<rect x="401" y="445.4" width="2" height="6.4" fill="#008000"/>
<rect x="401" y="444.8" width="2" height="3.6" fill="#ff0000"/>
<rect x="405" y="443.0" width="1" height="6.3" fill="#008000"/>
<rect x="404" y="444.1" width="2" height="3.8" fill="#008000"/>
<rect x="408" y="435.9" width="1" height="14.3" fill="#008000"/>
<rect x="407" y="441.4" width="2" height="4.9" fill="#008000"/>
<rect x="407" y="442.1" width="2" height="7.2" fill="#ff0000"/>
<rect x="411" y="440.4" width="1" height="10.6" fill="#ff0000"/>
<rect x="410" y="442.5" width="2" height="6.1" fill="#ff0000"/>
<rect x="410" y="440.4" width="2" height="4.4" fill="#008000"/>
<rect x="414" y="427.9" width="1" height="22.3" fill="#008000"/>
<rect x="413" y="435.7" width="2" height="12.6" fill="#008000"/>
<rect x="417" y="424.3" width="1" height="8.9" fill="#008000"/>
<rect x="417" y="428.0" width="2" height="2.6" fill="#008000"/>
<rect x="417" y="426.1" width="2" height="4.5" fill="#ff0000"/>
<rect x="421" y="421.7" width="1" height="11.5" fill="#008000"/>
<rect x="420" y="424.2" width="2" height="5.7" fill="#008000"/>
<rect x="420" y="427.0" width="2" height="6.2" fill="#ff0000"/>
<rect x="424" y="425.2" width="1" height="16.1" fill="#008000"/>
<rect x="423" y="429.5" width="2" height="9.0" fill="#008000"/>
<rect x="427" y="421.7" width="1" height="9.8" fill="#ff0000"/>
<rect x="426" y="426.1" width="2" height="2.9" fill="#ff0000"/>
<rect x="428" y="403.0" width="1" height="29.3" fill="#008000"/>
<rect x="427" y="408.8" width="2" height="18.9" fill="#008000"/>
<rect x="431" y="383.4" width="1" height="22.2" fill="#008000"/>
<rect x="430" y="390.2" width="2" height="12.4" fill="#008000"/>
<rect x="430" y="398.5" width="2" height="7.1" fill="#ff0000"/>
<rect x="434" y="387.8" width="1" height="22.2" fill="#008000"/>
<rect x="433" y="392.4" width="2" height="14.7" fill="#008000"/>
<rect x="437" y="381.6" width="1" height="21.4" fill="#008000"/>
<rect x="436" y="389.4" width="2" height="12.4" fill="#008000"/>
<rect x="440" y="357.7" width="1" height="19.6" fill="#008000"/>
<rect x="439" y="363.9" width="2" height="10.3" fill="#008000"/>
<rect x="441" y="346.0" width="1" height="30.4" fill="#ff0000"/>
<rect x="440" y="350.7" width="2" height="21.6" fill="#ff0000"/>
<rect x="443" y="373.7" width="1" height="21.3" fill="#ff0000"/>
<rect x="443" y="380.9" width="2" height="10.3" fill="#ff0000"/>
<rect x="445" y="373.7" width="1" height="15.2" fill="#008000"/>
<rect x="444" y="376.3" width="2" height="8.1" fill="#008000"/>
<rect x="447" y="370.0" width="1" height="37.5" fill="#ff0000"/>
<rect x="446" y="384.5" width="2" height="12.0" fill="#ff0000"/>
<rect x="449" y="372.0" width="1" height="17.0" fill="#008000"/>
<rect x="449" y="375.1" width="2" height="11.9" fill="#008000"/>
<rect x="452" y="345.0" width="1" height="37.6" fill="#008000"/>
<rect x="452" y="351.1" width="2" height="22.3" fill="#008000"/>
<rect x="456" y="336.0" width="1" height="25.0" fill="#008000"/>
<rect x="455" y="341.8" width="2" height="17.2" fill="#008000"/>
<rect x="455" y="356.0" width="2" height="4.5" fill="#ff0000"/>
<rect x="457" y="335.4" width="1" height="33.0" fill="#008000"/>
<rect x="456" y="344.5" width="2" height="14.7" fill="#008000"/>
<rect x="460" y="341.7" width="1" height="13.3" fill="#ff0000"/>
<rect x="459" y="347.0" width="2" height="6.5" fill="#ff0000"/>
<rect x="460" y="355.0" width="1" height="6.3" fill="#008000"/>
<rect x="459" y="356.2" width="2" height="3.3" fill="#008000"/>
<rect x="462" y="331.0" width="1" height="23.0" fill="#008000"/>
<rect x="462" y="338.4" width="2" height="10.4" fill="#008000"/>
<rect x="462" y="321.0" width="1" height="10.0" fill="#ff0000"/>
<rect x="462" y="322.8" width="2" height="7.6" fill="#ff0000"/>
<rect x="465" y="325.6" width="1" height="41.9" fill="#ff0000"/>
<rect x="465" y="340.5" width="2" height="20.4" fill="#ff0000"/>
<rect x="466" y="325.6" width="2" height="16.1" fill="#ff0000"/>
<rect x="468" y="357.7" width="1" height="28.3" fill="#ff0000"/>
<rect x="468" y="362.6" width="2" height="15.4" fill="#ff0000"/>
<rect x="470" y="348.0" width="1" height="38.0" fill="#008000"/>
<rect x="470" y="360.9" width="2" height="15.6" fill="#008000"/>
<rect x="473" y="348.0" width="1" height="20.4" fill="#008000"/>
<rect x="473" y="351.6" width="2" height="11.4" fill="#008000"/>
<rect x="476" y="313.0" width="1" height="39.3" fill="#008000"/>
<rect x="475" y="319.7" width="2" height="22.2" fill="#008000"/>
<rect x="476" y="322.0" width="2" height="5.4" fill="#008000"/>
<rect x="479" y="302.8" width="1" height="24.6" fill="#008000"/>
<rect x="478" y="309.8" width="2" height="14.2" fill="#008000"/>
<rect x="479" y="327.4" width="1" height="19.6" fill="#ff0000"/>
<rect x="478" y="333.6" width="2" height="7.9" fill="#ff0000"/>
<rect x="481" y="342.5" width="1" height="14.3" fill="#008000"/>
<rect x="481" y="345.8" width="2" height="9.8" fill="#008000"/>
<rect x="481" y="341.7" width="1" height="12.3" fill="#ff0000"/>
<rect x="480" y="345.5" width="2" height="7.2" fill="#ff0000"/>
<rect x="486" y="321.0" width="1" height="47.4" fill="#008000"/>
<rect x="485" y="329.7" width="2" height="34.5" fill="#008000"/>
<rect x="489" y="323.8" width="1" height="28.5" fill="#ff0000"/>
<rect x="488" y="328.5" width="2" height="20.9" fill="#ff0000"/>
<rect x="492" y="330.0" width="1" height="26.8" fill="#ff0000"/>
<rect x="491" y="336.5" width="2" height="16.9" fill="#ff0000"/>
<rect x="491" y="340.0" width="2" height="10.6" fill="#008000"/>
<rect x="495" y="327.4" width="1" height="16.0" fill="#008000"/>
<rect x="494" y="333.4" width="2" height="8.0" fill="#008000"/>
<rect x="494" y="340.8" width="2" height="4.4" fill="#ff0000"/>
<rect x="498" y="324.7" width="1" height="25.9" fill="#008000"/>
<rect x="497" y="332.5" width="2" height="15.7" fill="#008000"/>
<rect x="499" y="312.3" width="1" height="20.4" fill="#ff0000"/>
<rect x="498" y="317.5" width="2" height="14.1" fill="#ff0000"/>
<rect x="502" y="317.6" width="1" height="45.4" fill="#ff0000"/>
<rect x="501" y="327.8" width="2" height="32.7" fill="#ff0000"/>
<rect x="504" y="361.0" width="1" height="9.0" fill="#ff0000"/>
<rect x="504" y="364.3" width="2" height="4.0" fill="#ff0000"/>
<rect x="507" y="363.0" width="1" height="21.4" fill="#008000"/>
<rect x="507" y="367.4" width="2" height="13.4" fill="#008000"/>
<rect x="507" y="382.6" width="2" height="2.7" fill="#ff0000"/>
<rect x="511" y="364.0" width="1" height="11.5" fill="#008000"/>
<rect x="510" y="368.9" width="2" height="5.7" fill="#008000"/>
<rect x="512" y="364.8" width="1" height="22.2" fill="#ff0000"/>
<rect x="511" y="373.6" width="2" height="9.9" fill="#ff0000"/>
<rect x="515" y="339.0" width="1" height="26.7" fill="#008000"/>
<rect x="514" y="347.0" width="2" height="11.8" fill="#008000"/>
<rect x="518" y="328.3" width="1" height="12.5" fill="#008000"/>
<rect x="517" y="331.6" width="2" height="6.9" fill="#008000"/>
<rect x="521" y="297.0" width="1" height="31.3" fill="#008000"/>
<rect x="520" y="308.2" width="2" height="10.9" fill="#008000"/>
<rect x="523" y="301.6" width="1" height="45.4" fill="#ff0000"/>
<rect x="523" y="313.1" width="2" height="22.2" fill="#ff0000"/>
<rect x="526" y="339.0" width="1" height="22.0" fill="#008000"/>
<rect x="526" y="347.0" width="2" height="9.4" fill="#008000"/>
<rect x="528" y="332.7" width="1" height="16.1" fill="#ff0000"/>
<rect x="527" y="337.1" width="2" height="9.5" fill="#ff0000"/>
<rect x="531" y="344.3" width="1" height="42.7" fill="#008000"/>
<rect x="530" y="351.4" width="2" height="32.1" fill="#008000"/>
<rect x="531" y="343.5" width="1" height="21.5" fill="#ff0000"/>
<rect x="531" y="347.2" width="2" height="12.8" fill="#ff0000"/>
<rect x="534" y="353.2" width="1" height="8.8" fill="#008000"/>
<rect x="533" y="355.2" width="2" height="6.0" fill="#008000"/>
<rect x="537" y="360.4" width="1" height="31.1" fill="#ff0000"/>
<rect x="536" y="365.9" width="2" height="17.6" fill="#ff0000"/>
<rect x="540" y="370.0" width="1" height="33.0" fill="#008000"/>
<rect x="539" y="383.6" width="2" height="12.2" fill="#008000"/>
<rect x="541" y="370.0" width="1" height="17.0" fill="#008000"/>
<rect x="541" y="374.0" width="2" height="11.1" fill="#008000"/>
<rect x="544" y="372.8" width="1" height="22.2" fill="#ff0000"/>
<rect x="543" y="378.1" width="2" height="13.3" fill="#ff0000"/>
<rect x="544" y="371.0" width="1" height="15.0" fill="#008000"/>
<rect x="543" y="374.0" width="2" height="9.6" fill="#008000"/>
<rect x="547" y="366.6" width="1" height="20.4" fill="#008000"/>
<rect x="546" y="371.3" width="2" height="9.8" fill="#008000"/>
<rect x="550" y="371.0" width="1" height="8.0" fill="#008000"/>
<rect x="549" y="374.5" width="2" height="3.0" fill="#008000"/>
<rect x="553" y="352.3" width="1" height="18.7" fill="#008000"/>
<rect x="552" y="356.5" width="2" height="9.1" fill="#008000"/>
<polyline points="0.0,309.0 10.0,306.0 19.0,304.0 25.0,302.5 40.0,302.5 60.0,303.0 69.0,304.0 77.5,307.0 86.0,310.0 94.0,314.0 100.0,319.0 107.5,325.5 115.0,331.0 122.5,337.5 130.0,342.5 137.5,346.0 145.0,350.5 152.5,355.5 157.5,359.0 165.0,365.0 172.5,370.5 180.0,375.0 187.5,379.5 195.0,384.0 202.5,389.0 210.0,393.5 220.0,397.5 230.0,401.0 240.0,404.0 250.0,410.0 260.0,416.0 270.0,419.5 280.0,424.0 287.5,427.0 300.0,428.0 310.0,429.0 320.0,429.5 326.0,430.5 335.0,434.5 345.0,440.0 355.0,446.0 365.0,449.5 375.0,452.5 385.0,453.5 400.0,453.5 415.0,453.0 427.5,452.0 437.5,449.5 447.5,446.0 455.0,444.8 460.5,442.0 466.1,438.7 471.6,437.0 476.0,431.5 481.6,426.5 487.1,420.4 492.7,415.4 498.2,408.8 501.5,404.4 507.0,401.0 512.6,396.6 518.1,391.0 523.7,385.0 530.0,381.8 534.5,379.0 543.4,374.6 552.5,371.4" fill="none" stroke="#ff0000" stroke-width="2.1" stroke-linejoin="round" stroke-linecap="round" shape-rendering="crispEdges" />
<polyline points="0.0,289.0 7.5,287.0 14.0,285.0 17.5,284.0 22.5,286.0 27.5,290.0 35.0,297.5 41.0,305.0 49.0,313.0 56.0,315.0 65.0,316.0 69.0,319.0 77.5,327.5 85.0,335.0 94.0,342.5 102.5,350.5 110.0,354.5 115.0,357.0 122.5,364.0 130.0,370.0 137.5,376.5 145.0,378.0 152.5,382.5 160.0,386.0 167.5,389.0 175.0,393.0 182.5,399.5 190.0,404.5 197.5,406.0 205.0,410.0 212.5,412.5 220.0,415.0 230.0,418.0 240.0,420.0 250.0,426.0 260.0,431.0 270.0,435.0 280.0,438.0 290.0,440.5 300.0,440.5 310.0,438.0 320.0,434.5 326.0,432.0 330.0,434.0 336.0,436.0 344.0,442.0 352.5,450.0 362.5,458.0 372.5,465.5 382.5,470.5 392.5,473.0 399.0,474.0 406.0,472.0 414.0,467.5 421.0,460.0 429.0,452.5 436.0,444.0 444.0,434.0 451.0,424.5 455.0,419.3 460.5,411.0 466.1,403.8 471.6,397.7 477.1,390.0 482.7,382.8 485.0,379.0 490.0,372.8 494.0,366.5 498.0,361.0 501.5,358.0 505.0,356.0 513.0,355.5 517.0,352.5 522.0,348.4 527.4,347.0 536.3,349.7 545.2,351.5 550.6,354.5 553.6,355.0" fill="none" stroke="#000" stroke-width="2.1" stroke-linejoin="round" stroke-linecap="round" shape-rendering="crispEdges" />
<rect x="457.1" y="362.8" width="108.4" height="25.1" fill="none" stroke="#0000ff" stroke-width="2"/>
<rect x="587" y="347.8" width="45" height="18.3" fill="#fff"/>
<rect x="588" y="349.2" width="44" height="15.5" fill="#000"/>
<text transform="translate(589.1,361.1) scale(0.875,1)" font-size="11.7" fill="#00ff00" stroke="#00ff00" stroke-width="0.12">21350.00</text>
<rect x="0" y="543.5" width="632" height="1.8" fill="#e9e9e9"/>
<rect x="0" y="545.3" width="632" height="1.6" fill="#808080"/>
<rect x="582.9" y="547.0" width="1.4" height="110.5" fill="#000"/>
<rect x="583.5" y="553.85" width="3.9" height="1.3" fill="#000"/>
<rect x="583.5" y="565.95" width="3.9" height="1.3" fill="#000"/>
<rect x="583.5" y="577.75" width="3.9" height="1.3" fill="#000"/>
<rect x="583.5" y="590.05" width="8.5" height="1.3" fill="#000"/>
<rect x="583.5" y="602.95" width="3.9" height="1.3" fill="#000"/>
<rect x="583.5" y="615.35" width="3.9" height="1.3" fill="#000"/>
<rect x="583.5" y="627.75" width="3.9" height="1.3" fill="#000"/>
<rect x="583.5" y="640.15" width="3.9" height="1.3" fill="#000"/>
<text x="629.5" y="595.9" font-size="12" text-anchor="end" fill="#000" letter-spacing="0.15">50000</text>
<g shape-rendering="crispEdges">
<rect x="-0.30" y="634.0" width="2.00" height="17.6" fill="#008000"/>
<rect x="1.13" y="633.0" width="2.00" height="18.6" fill="#008000"/>
<rect x="2.56" y="622.2" width="2.00" height="29.4" fill="#008000"/>
<rect x="3.99" y="627.5" width="2.00" height="24.1" fill="#008000"/>
<rect x="5.42" y="634.5" width="2.00" height="17.1" fill="#008000"/>
<rect x="6.85" y="623.4" width="2.00" height="28.2" fill="#008000"/>
<rect x="8.28" y="621.0" width="2.00" height="30.6" fill="#008000"/>
<rect x="9.71" y="629.7" width="2.00" height="21.9" fill="#008000"/>
<rect x="11.14" y="632.7" width="2.00" height="18.9" fill="#008000"/>
<rect x="12.57" y="613.0" width="2.00" height="38.6" fill="#008000"/>
<rect x="14.00" y="630.0" width="2.00" height="21.6" fill="#008000"/>
<rect x="15.43" y="626.5" width="2.00" height="25.1" fill="#008000"/>
<rect x="16.86" y="634.5" width="2.00" height="17.1" fill="#008000"/>
<rect x="18.29" y="632.5" width="2.00" height="19.1" fill="#008000"/>
<rect x="19.72" y="634.7" width="2.00" height="16.9" fill="#008000"/>
<rect x="21.15" y="637.4" width="2.00" height="14.2" fill="#008000"/>
<rect x="22.58" y="630.7" width="2.00" height="20.9" fill="#008000"/>
<rect x="24.01" y="636.0" width="2.00" height="15.6" fill="#008000"/>
<rect x="25.44" y="632.0" width="2.00" height="19.6" fill="#008000"/>
<rect x="26.87" y="632.3" width="2.00" height="19.3" fill="#008000"/>
<rect x="28.30" y="630.4" width="2.00" height="21.2" fill="#008000"/>
<rect x="29.73" y="637.2" width="2.00" height="14.4" fill="#008000"/>
<rect x="31.16" y="637.8" width="2.00" height="13.8" fill="#008000"/>
<rect x="32.59" y="627.0" width="2.00" height="24.6" fill="#008000"/>
<rect x="34.02" y="634.8" width="2.00" height="16.8" fill="#008000"/>
<rect x="35.45" y="637.4" width="2.00" height="14.2" fill="#008000"/>
<rect x="36.88" y="637.5" width="2.00" height="14.1" fill="#008000"/>
<rect x="38.31" y="637.2" width="2.00" height="14.4" fill="#008000"/>
<rect x="39.74" y="639.8" width="2.00" height="11.8" fill="#008000"/>
<rect x="41.17" y="644.5" width="2.00" height="7.1" fill="#008000"/>
<rect x="42.60" y="628.0" width="2.00" height="23.6" fill="#008000"/>
<rect x="44.03" y="636.8" width="2.00" height="14.8" fill="#008000"/>
<rect x="45.46" y="638.1" width="2.00" height="13.5" fill="#008000"/>
<rect x="46.89" y="636.0" width="2.00" height="15.6" fill="#008000"/>
<rect x="48.32" y="636.9" width="2.00" height="14.7" fill="#008000"/>
<rect x="49.75" y="638.0" width="2.00" height="13.6" fill="#008000"/>
<rect x="51.18" y="641.7" width="2.00" height="9.9" fill="#008000"/>
<rect x="52.61" y="639.9" width="2.00" height="11.7" fill="#008000"/>
<rect x="54.04" y="638.1" width="2.00" height="13.5" fill="#008000"/>
<rect x="55.47" y="633.0" width="2.00" height="18.6" fill="#008000"/>
<rect x="56.90" y="633.7" width="2.00" height="17.9" fill="#008000"/>
<rect x="58.33" y="637.5" width="2.00" height="14.1" fill="#008000"/>
<rect x="59.76" y="640.3" width="2.00" height="11.3" fill="#008000"/>
<rect x="61.19" y="631.0" width="2.00" height="20.6" fill="#008000"/>
<rect x="62.62" y="637.7" width="2.00" height="13.9" fill="#008000"/>
<rect x="64.05" y="640.4" width="2.00" height="11.2" fill="#008000"/>
<rect x="65.48" y="641.0" width="2.00" height="10.6" fill="#008000"/>
<rect x="66.91" y="608.0" width="2.00" height="43.6" fill="#008000"/>
<rect x="68.34" y="637.3" width="2.00" height="14.3" fill="#008000"/>
<rect x="69.77" y="641.6" width="2.00" height="10.0" fill="#008000"/>
<rect x="71.20" y="633.0" width="2.00" height="18.6" fill="#008000"/>
<rect x="72.63" y="640.6" width="2.00" height="11.0" fill="#008000"/>
<rect x="74.06" y="637.8" width="2.00" height="13.8" fill="#008000"/>
<rect x="75.49" y="639.6" width="2.00" height="12.0" fill="#008000"/>
<rect x="76.92" y="639.0" width="2.00" height="12.6" fill="#008000"/>
<rect x="78.35" y="639.2" width="2.00" height="12.4" fill="#008000"/>
<rect x="79.78" y="636.3" width="2.00" height="15.3" fill="#008000"/>
<rect x="81.21" y="637.2" width="2.00" height="14.4" fill="#008000"/>
<rect x="82.64" y="638.0" width="2.00" height="13.6" fill="#008000"/>
<rect x="84.07" y="639.7" width="2.00" height="11.9" fill="#008000"/>
<rect x="85.50" y="627.0" width="2.00" height="24.6" fill="#008000"/>
<rect x="86.93" y="639.7" width="2.00" height="11.9" fill="#008000"/>
<rect x="88.36" y="637.5" width="2.00" height="14.1" fill="#008000"/>
<rect x="89.79" y="643.6" width="2.00" height="8.0" fill="#008000"/>
<rect x="91.22" y="637.9" width="2.00" height="13.7" fill="#008000"/>
<rect x="92.65" y="609.0" width="2.00" height="42.6" fill="#008000"/>
<rect x="94.08" y="640.4" width="2.00" height="11.2" fill="#008000"/>
<rect x="95.51" y="635.9" width="2.00" height="15.7" fill="#008000"/>
<rect x="96.94" y="642.1" width="2.00" height="9.5" fill="#008000"/>
<rect x="98.37" y="617.0" width="2.00" height="34.6" fill="#008000"/>
<rect x="99.80" y="638.5" width="2.00" height="13.1" fill="#008000"/>
<rect x="101.23" y="619.5" width="2.00" height="32.1" fill="#008000"/>
<rect x="102.66" y="634.9" width="2.00" height="16.7" fill="#008000"/>
<rect x="104.09" y="625.0" width="2.00" height="26.6" fill="#008000"/>
<rect x="105.52" y="627.0" width="2.00" height="24.6" fill="#008000"/>
<rect x="106.95" y="633.7" width="2.00" height="17.9" fill="#008000"/>
<rect x="108.38" y="634.6" width="2.00" height="17.0" fill="#008000"/>
<rect x="109.81" y="600.0" width="2.00" height="51.6" fill="#008000"/>
<rect x="111.24" y="630.2" width="2.00" height="21.4" fill="#008000"/>
<rect x="112.67" y="612.0" width="2.00" height="39.6" fill="#008000"/>
<rect x="114.10" y="631.7" width="2.00" height="19.9" fill="#008000"/>
<rect x="115.53" y="630.3" width="2.00" height="21.3" fill="#008000"/>
<rect x="116.96" y="630.0" width="2.00" height="21.6" fill="#008000"/>
<rect x="118.39" y="629.4" width="2.00" height="22.2" fill="#008000"/>
<rect x="119.82" y="630.5" width="2.00" height="21.1" fill="#008000"/>
<rect x="121.25" y="636.0" width="2.00" height="15.6" fill="#008000"/>
<rect x="122.68" y="630.3" width="2.00" height="21.3" fill="#008000"/>
<rect x="124.11" y="625.6" width="2.00" height="26.0" fill="#008000"/>
<rect x="125.54" y="637.4" width="2.00" height="14.2" fill="#008000"/>
<rect x="126.97" y="634.2" width="2.00" height="17.4" fill="#008000"/>
<rect x="128.40" y="639.0" width="2.00" height="12.6" fill="#008000"/>
<rect x="129.83" y="641.0" width="2.00" height="10.6" fill="#008000"/>
<rect x="131.26" y="634.7" width="2.00" height="16.9" fill="#008000"/>
<rect x="132.69" y="638.3" width="2.00" height="13.3" fill="#008000"/>
<rect x="134.12" y="631.3" width="2.00" height="20.3" fill="#008000"/>
<rect x="135.55" y="637.9" width="2.00" height="13.7" fill="#008000"/>
<rect x="136.98" y="637.5" width="2.00" height="14.1" fill="#008000"/>
<rect x="138.41" y="637.4" width="2.00" height="14.2" fill="#008000"/>
<rect x="139.84" y="640.6" width="2.00" height="11.0" fill="#008000"/>
<rect x="141.27" y="638.8" width="2.00" height="12.8" fill="#008000"/>
<rect x="142.70" y="626.0" width="2.00" height="25.6" fill="#008000"/>
<rect x="144.13" y="641.9" width="2.00" height="9.7" fill="#008000"/>
<rect x="145.56" y="632.0" width="2.00" height="19.6" fill="#008000"/>
<rect x="146.99" y="641.8" width="2.00" height="9.8" fill="#008000"/>
<rect x="148.42" y="641.7" width="2.00" height="9.9" fill="#008000"/>
<rect x="149.85" y="639.0" width="2.00" height="12.6" fill="#008000"/>
<rect x="151.28" y="640.9" width="2.00" height="10.7" fill="#008000"/>
<rect x="152.71" y="640.1" width="2.00" height="11.5" fill="#008000"/>
<rect x="154.14" y="638.8" width="2.00" height="12.8" fill="#008000"/>
<rect x="155.57" y="621.0" width="2.00" height="30.6" fill="#008000"/>
<rect x="157.00" y="640.8" width="2.00" height="10.8" fill="#008000"/>
<rect x="158.43" y="639.1" width="2.00" height="12.5" fill="#008000"/>
<rect x="159.86" y="642.4" width="2.00" height="9.2" fill="#008000"/>
<rect x="161.29" y="642.1" width="2.00" height="9.5" fill="#008000"/>
<rect x="162.72" y="641.1" width="2.00" height="10.5" fill="#008000"/>
<rect x="164.15" y="636.0" width="2.00" height="15.6" fill="#008000"/>
<rect x="165.58" y="636.8" width="2.00" height="14.8" fill="#008000"/>
<rect x="167.01" y="636.2" width="2.00" height="15.4" fill="#008000"/>
<rect x="168.44" y="641.0" width="2.00" height="10.6" fill="#008000"/>
<rect x="169.87" y="641.4" width="2.00" height="10.2" fill="#008000"/>
<rect x="171.30" y="644.0" width="2.00" height="7.6" fill="#008000"/>
<rect x="172.73" y="643.2" width="2.00" height="8.4" fill="#008000"/>
<rect x="174.16" y="641.5" width="2.00" height="10.1" fill="#008000"/>
<rect x="175.59" y="638.0" width="2.00" height="13.6" fill="#008000"/>
<rect x="177.02" y="644.0" width="2.00" height="7.6" fill="#008000"/>
<rect x="178.45" y="638.0" width="2.00" height="13.6" fill="#008000"/>
<rect x="179.88" y="642.8" width="2.00" height="8.8" fill="#008000"/>
<rect x="181.31" y="643.2" width="2.00" height="8.4" fill="#008000"/>
<rect x="182.74" y="645.8" width="2.00" height="5.8" fill="#008000"/>
<rect x="184.17" y="644.2" width="2.00" height="7.4" fill="#008000"/>
<rect x="185.60" y="643.3" width="2.00" height="8.3" fill="#008000"/>
<rect x="187.03" y="645.7" width="2.00" height="5.9" fill="#008000"/>
<rect x="188.46" y="643.4" width="2.00" height="8.2" fill="#008000"/>
<rect x="189.89" y="645.9" width="2.00" height="5.7" fill="#008000"/>
<rect x="191.32" y="643.3" width="2.00" height="8.3" fill="#008000"/>
<rect x="192.75" y="643.0" width="2.00" height="8.6" fill="#008000"/>
<rect x="194.18" y="634.0" width="2.00" height="17.6" fill="#008000"/>
<rect x="195.61" y="639.8" width="2.00" height="11.8" fill="#008000"/>
<rect x="197.04" y="643.4" width="2.00" height="8.2" fill="#008000"/>
<rect x="198.47" y="642.0" width="2.00" height="9.6" fill="#008000"/>
<rect x="199.90" y="641.4" width="2.00" height="10.2" fill="#008000"/>
<rect x="201.33" y="644.6" width="2.00" height="7.0" fill="#008000"/>
<rect x="202.76" y="646.8" width="2.00" height="4.8" fill="#008000"/>
<rect x="204.19" y="643.6" width="2.00" height="8.0" fill="#008000"/>
<rect x="205.62" y="643.2" width="2.00" height="8.4" fill="#008000"/>
<rect x="207.05" y="644.6" width="2.00" height="7.0" fill="#008000"/>
<rect x="208.48" y="640.8" width="2.00" height="10.8" fill="#008000"/>
<rect x="209.91" y="631.0" width="2.00" height="20.6" fill="#008000"/>
<rect x="211.34" y="642.6" width="2.00" height="9.0" fill="#008000"/>
<rect x="212.77" y="642.9" width="2.00" height="8.7" fill="#008000"/>
<rect x="214.20" y="641.0" width="2.00" height="10.6" fill="#008000"/>
<rect x="215.63" y="643.1" width="2.00" height="8.5" fill="#008000"/>
<rect x="217.06" y="640.8" width="2.00" height="10.8" fill="#008000"/>
<rect x="218.49" y="638.7" width="2.00" height="12.9" fill="#008000"/>
<rect x="219.92" y="630.5" width="2.00" height="21.1" fill="#008000"/>
<rect x="221.35" y="642.0" width="2.00" height="9.6" fill="#008000"/>
<rect x="222.78" y="641.8" width="2.00" height="9.8" fill="#008000"/>
<rect x="224.21" y="640.8" width="2.00" height="10.8" fill="#008000"/>
<rect x="225.64" y="631.0" width="2.00" height="20.6" fill="#008000"/>
<rect x="227.07" y="639.8" width="2.00" height="11.8" fill="#008000"/>
<rect x="228.50" y="641.1" width="2.00" height="10.5" fill="#008000"/>
<rect x="229.93" y="641.0" width="2.00" height="10.6" fill="#008000"/>
<rect x="231.36" y="642.0" width="2.00" height="9.6" fill="#008000"/>
<rect x="232.79" y="641.2" width="2.00" height="10.4" fill="#008000"/>
<rect x="234.22" y="640.0" width="2.00" height="11.6" fill="#008000"/>
<rect x="235.65" y="642.0" width="2.00" height="9.6" fill="#008000"/>
<rect x="237.08" y="642.9" width="2.00" height="8.7" fill="#008000"/>
<rect x="238.51" y="642.1" width="2.00" height="9.5" fill="#008000"/>
<rect x="239.94" y="640.7" width="2.00" height="10.9" fill="#008000"/>
<rect x="241.37" y="636.0" width="2.00" height="15.6" fill="#008000"/>
<rect x="242.80" y="639.3" width="2.00" height="12.3" fill="#008000"/>
<rect x="244.23" y="642.3" width="2.00" height="9.3" fill="#008000"/>
<rect x="245.66" y="644.8" width="2.00" height="6.8" fill="#008000"/>
<rect x="247.09" y="644.7" width="2.00" height="6.9" fill="#008000"/>
<rect x="248.52" y="643.0" width="2.00" height="8.6" fill="#008000"/>
<rect x="249.95" y="642.4" width="2.00" height="9.2" fill="#008000"/>
<rect x="251.38" y="645.0" width="2.00" height="6.6" fill="#008000"/>
<rect x="252.81" y="643.1" width="2.00" height="8.5" fill="#008000"/>
<rect x="254.24" y="644.2" width="2.00" height="7.4" fill="#008000"/>
<rect x="255.67" y="645.6" width="2.00" height="6.0" fill="#008000"/>
<rect x="257.10" y="645.9" width="2.00" height="5.7" fill="#008000"/>
<rect x="258.53" y="644.8" width="2.00" height="6.8" fill="#008000"/>
<rect x="259.96" y="645.5" width="2.00" height="6.1" fill="#008000"/>
<rect x="261.39" y="630.5" width="2.00" height="21.1" fill="#008000"/>
<rect x="262.82" y="641.9" width="2.00" height="9.7" fill="#008000"/>
<rect x="264.25" y="644.1" width="2.00" height="7.5" fill="#008000"/>
<rect x="265.68" y="622.0" width="2.00" height="29.6" fill="#008000"/>
<rect x="267.11" y="646.3" width="2.00" height="5.3" fill="#008000"/>
<rect x="268.54" y="640.0" width="2.00" height="11.6" fill="#008000"/>
<rect x="269.97" y="642.4" width="2.00" height="9.2" fill="#008000"/>
<rect x="271.40" y="641.4" width="2.00" height="10.2" fill="#008000"/>
<rect x="272.83" y="642.3" width="2.00" height="9.3" fill="#008000"/>
<rect x="274.26" y="642.4" width="2.00" height="9.2" fill="#008000"/>
<rect x="275.69" y="641.6" width="2.00" height="10.0" fill="#008000"/>
<rect x="277.12" y="643.6" width="2.00" height="8.0" fill="#008000"/>
<rect x="278.55" y="634.5" width="2.00" height="17.1" fill="#008000"/>
<rect x="279.98" y="643.2" width="2.00" height="8.4" fill="#008000"/>
<rect x="281.41" y="636.0" width="2.00" height="15.6" fill="#008000"/>
<rect x="282.84" y="640.9" width="2.00" height="10.7" fill="#008000"/>
<rect x="284.27" y="642.7" width="2.00" height="8.9" fill="#008000"/>
<rect x="285.70" y="634.5" width="2.00" height="17.1" fill="#008000"/>
<rect x="287.13" y="637.0" width="2.00" height="14.6" fill="#008000"/>
<rect x="288.56" y="631.0" width="2.00" height="20.6" fill="#008000"/>
<rect x="289.99" y="639.4" width="2.00" height="12.2" fill="#008000"/>
<rect x="291.42" y="641.7" width="2.00" height="9.9" fill="#008000"/>
<rect x="292.85" y="634.5" width="2.00" height="17.1" fill="#008000"/>
<rect x="294.28" y="641.6" width="2.00" height="10.0" fill="#008000"/>
<rect x="295.71" y="643.2" width="2.00" height="8.4" fill="#008000"/>
<rect x="297.14" y="635.0" width="2.00" height="16.6" fill="#008000"/>
<rect x="298.57" y="640.3" width="2.00" height="11.3" fill="#008000"/>
<rect x="300.00" y="640.0" width="2.00" height="11.6" fill="#008000"/>
<rect x="301.43" y="639.4" width="2.00" height="12.2" fill="#008000"/>
<rect x="302.86" y="620.5" width="2.00" height="31.1" fill="#008000"/>
<rect x="304.29" y="620.5" width="2.00" height="31.1" fill="#008000"/>
<rect x="305.72" y="626.0" width="2.00" height="25.6" fill="#008000"/>
<rect x="307.15" y="626.0" width="2.00" height="25.6" fill="#008000"/>
<rect x="308.58" y="636.4" width="2.00" height="15.2" fill="#008000"/>
<rect x="310.01" y="637.3" width="2.00" height="14.3" fill="#008000"/>
<rect x="311.44" y="639.2" width="2.00" height="12.4" fill="#008000"/>
<rect x="312.87" y="632.5" width="2.00" height="19.1" fill="#008000"/>
<rect x="314.30" y="631.2" width="2.00" height="20.4" fill="#008000"/>
<rect x="315.73" y="633.9" width="2.00" height="17.7" fill="#008000"/>
<rect x="317.16" y="634.7" width="2.00" height="16.9" fill="#008000"/>
<rect x="318.59" y="639.0" width="2.00" height="12.6" fill="#008000"/>
<rect x="320.02" y="639.4" width="2.00" height="12.2" fill="#008000"/>
<rect x="321.45" y="639.3" width="2.00" height="12.3" fill="#008000"/>
<rect x="322.88" y="638.2" width="2.00" height="13.4" fill="#008000"/>
<rect x="324.31" y="624.0" width="2.00" height="27.6" fill="#008000"/>
<rect x="325.74" y="638.7" width="2.00" height="12.9" fill="#008000"/>
<rect x="327.17" y="638.5" width="2.00" height="13.1" fill="#008000"/>
<rect x="328.60" y="637.3" width="2.00" height="14.3" fill="#008000"/>
<rect x="330.03" y="617.0" width="2.00" height="34.6" fill="#008000"/>
<rect x="331.46" y="634.4" width="2.00" height="17.2" fill="#008000"/>
<rect x="332.89" y="619.0" width="2.00" height="32.6" fill="#008000"/>
<rect x="334.32" y="633.9" width="2.00" height="17.7" fill="#008000"/>
<rect x="335.75" y="635.3" width="2.00" height="16.3" fill="#008000"/>
<rect x="337.18" y="630.0" width="2.00" height="21.6" fill="#008000"/>
<rect x="338.61" y="637.8" width="2.00" height="13.8" fill="#008000"/>
<rect x="340.04" y="638.5" width="2.00" height="13.1" fill="#008000"/>
<rect x="341.47" y="614.0" width="2.00" height="37.6" fill="#008000"/>
<rect x="342.90" y="632.4" width="2.00" height="19.2" fill="#008000"/>
<rect x="344.33" y="636.3" width="2.00" height="15.3" fill="#008000"/>
<rect x="345.76" y="636.5" width="2.00" height="15.1" fill="#008000"/>
<rect x="347.19" y="639.0" width="2.00" height="12.6" fill="#008000"/>
<rect x="348.62" y="636.7" width="2.00" height="14.9" fill="#008000"/>
<rect x="350.05" y="632.4" width="2.00" height="19.2" fill="#008000"/>
<rect x="351.48" y="636.0" width="2.00" height="15.6" fill="#008000"/>
<rect x="352.91" y="643.2" width="2.00" height="8.4" fill="#008000"/>
<rect x="354.34" y="633.5" width="2.00" height="18.1" fill="#008000"/>
<rect x="355.77" y="638.3" width="2.00" height="13.3" fill="#008000"/>
<rect x="357.20" y="633.1" width="2.00" height="18.5" fill="#008000"/>
<rect x="358.63" y="636.0" width="2.00" height="15.6" fill="#008000"/>
<rect x="360.06" y="639.1" width="2.00" height="12.5" fill="#008000"/>
<rect x="361.49" y="632.0" width="2.00" height="19.6" fill="#008000"/>
<rect x="362.92" y="644.2" width="2.00" height="7.4" fill="#008000"/>
<rect x="364.35" y="634.0" width="2.00" height="17.6" fill="#008000"/>
<rect x="365.78" y="640.6" width="2.00" height="11.0" fill="#008000"/>
<rect x="367.21" y="639.4" width="2.00" height="12.2" fill="#008000"/>
<rect x="368.64" y="641.5" width="2.00" height="10.1" fill="#008000"/>
<rect x="370.07" y="637.9" width="2.00" height="13.7" fill="#008000"/>
<rect x="371.50" y="627.5" width="2.00" height="24.1" fill="#008000"/>
<rect x="372.93" y="639.6" width="2.00" height="12.0" fill="#008000"/>
<rect x="374.36" y="612.5" width="2.00" height="39.1" fill="#008000"/>
<rect x="375.79" y="638.2" width="2.00" height="13.4" fill="#008000"/>
<rect x="377.22" y="642.0" width="2.00" height="9.6" fill="#008000"/>
<rect x="378.65" y="628.0" width="2.00" height="23.6" fill="#008000"/>
<rect x="380.08" y="636.3" width="2.00" height="15.3" fill="#008000"/>
<rect x="381.51" y="621.0" width="2.00" height="30.6" fill="#008000"/>
<rect x="382.94" y="634.6" width="2.00" height="17.0" fill="#008000"/>
<rect x="384.37" y="621.0" width="2.00" height="30.6" fill="#008000"/>
<rect x="385.80" y="634.5" width="2.00" height="17.1" fill="#008000"/>
<rect x="387.23" y="628.9" width="2.00" height="22.7" fill="#008000"/>
<rect x="388.66" y="627.5" width="2.00" height="24.1" fill="#008000"/>
<rect x="390.09" y="630.9" width="2.00" height="20.7" fill="#008000"/>
<rect x="391.52" y="627.0" width="2.00" height="24.6" fill="#008000"/>
<rect x="392.95" y="607.5" width="2.00" height="44.1" fill="#008000"/>
<rect x="394.38" y="635.2" width="2.00" height="16.4" fill="#008000"/>
<rect x="395.81" y="634.0" width="2.00" height="17.6" fill="#008000"/>
<rect x="397.24" y="635.1" width="2.00" height="16.5" fill="#008000"/>
<rect x="398.67" y="635.0" width="2.00" height="16.6" fill="#008000"/>
<rect x="400.10" y="633.6" width="2.00" height="18.0" fill="#008000"/>
<rect x="401.53" y="630.0" width="2.00" height="21.6" fill="#008000"/>
<rect x="402.96" y="634.3" width="2.00" height="17.3" fill="#008000"/>
<rect x="404.39" y="626.7" width="2.00" height="24.9" fill="#008000"/>
<rect x="405.82" y="626.8" width="2.00" height="24.8" fill="#008000"/>
<rect x="407.25" y="622.0" width="2.00" height="29.6" fill="#008000"/>
<rect x="408.68" y="632.3" width="2.00" height="19.3" fill="#008000"/>
<rect x="410.11" y="629.0" width="2.00" height="22.6" fill="#008000"/>
<rect x="411.54" y="633.3" width="2.00" height="18.3" fill="#008000"/>
<rect x="412.97" y="632.7" width="2.00" height="18.9" fill="#008000"/>
<rect x="414.40" y="616.0" width="2.00" height="35.6" fill="#008000"/>
<rect x="415.83" y="636.5" width="2.00" height="15.1" fill="#008000"/>
<rect x="417.26" y="633.0" width="2.00" height="18.6" fill="#008000"/>
<rect x="418.69" y="620.0" width="2.00" height="31.6" fill="#008000"/>
<rect x="420.12" y="626.9" width="2.00" height="24.7" fill="#008000"/>
<rect x="421.55" y="636.4" width="2.00" height="15.2" fill="#008000"/>
<rect x="422.98" y="615.5" width="2.00" height="36.1" fill="#008000"/>
<rect x="424.41" y="623.0" width="2.00" height="28.6" fill="#008000"/>
<rect x="425.84" y="633.5" width="2.00" height="18.1" fill="#008000"/>
<rect x="427.27" y="588.0" width="2.00" height="63.6" fill="#008000"/>
<rect x="428.70" y="633.4" width="2.00" height="18.2" fill="#008000"/>
<rect x="430.13" y="612.5" width="2.00" height="39.1" fill="#008000"/>
<rect x="431.56" y="630.8" width="2.00" height="20.8" fill="#008000"/>
<rect x="432.99" y="628.9" width="2.00" height="22.7" fill="#008000"/>
<rect x="434.42" y="609.5" width="2.00" height="42.1" fill="#008000"/>
<rect x="435.85" y="630.2" width="2.00" height="21.4" fill="#008000"/>
<rect x="437.28" y="623.8" width="2.00" height="27.8" fill="#008000"/>
<rect x="438.71" y="575.0" width="2.00" height="76.6" fill="#008000"/>
<rect x="440.14" y="620.2" width="2.00" height="31.4" fill="#008000"/>
<rect x="441.57" y="604.0" width="2.00" height="47.6" fill="#008000"/>
<rect x="443.00" y="612.1" width="2.00" height="39.5" fill="#008000"/>
<rect x="444.43" y="622.4" width="2.00" height="29.2" fill="#008000"/>
<rect x="445.86" y="592.0" width="2.00" height="59.6" fill="#008000"/>
<rect x="447.29" y="610.9" width="2.00" height="40.7" fill="#008000"/>
<rect x="448.72" y="615.9" width="2.00" height="35.7" fill="#008000"/>
<rect x="450.15" y="596.0" width="2.00" height="55.6" fill="#008000"/>
<rect x="451.58" y="596.0" width="2.00" height="55.6" fill="#008000"/>
<rect x="453.01" y="619.9" width="2.00" height="31.7" fill="#008000"/>
<rect x="454.44" y="599.0" width="2.00" height="52.6" fill="#008000"/>
<rect x="455.87" y="604.7" width="2.00" height="46.9" fill="#008000"/>
<rect x="457.30" y="609.0" width="2.00" height="42.6" fill="#008000"/>
<rect x="458.73" y="622.6" width="2.00" height="29.0" fill="#008000"/>
<rect x="460.16" y="598.2" width="2.00" height="53.4" fill="#008000"/>
<rect x="461.59" y="588.0" width="2.00" height="63.6" fill="#008000"/>
<rect x="463.02" y="599.0" width="2.00" height="52.6" fill="#008000"/>
<rect x="464.45" y="591.0" width="2.00" height="60.6" fill="#008000"/>
<rect x="465.88" y="609.1" width="2.00" height="42.5" fill="#008000"/>
<rect x="467.31" y="620.5" width="2.00" height="31.1" fill="#008000"/>
<rect x="468.74" y="603.6" width="2.00" height="48.0" fill="#008000"/>
<rect x="470.17" y="633.5" width="2.00" height="18.1" fill="#008000"/>
<rect x="471.60" y="612.4" width="2.00" height="39.2" fill="#008000"/>
<rect x="473.03" y="612.0" width="2.00" height="39.6" fill="#008000"/>
<rect x="474.46" y="615.8" width="2.00" height="35.8" fill="#008000"/>
<rect x="475.89" y="618.0" width="2.00" height="33.6" fill="#008000"/>
<rect x="477.32" y="594.0" width="2.00" height="57.6" fill="#008000"/>
<rect x="478.75" y="616.9" width="2.00" height="34.7" fill="#008000"/>
<rect x="480.18" y="618.0" width="2.00" height="33.6" fill="#008000"/>
<rect x="481.61" y="609.2" width="2.00" height="42.4" fill="#008000"/>
<rect x="483.04" y="623.5" width="2.00" height="28.1" fill="#008000"/>
<rect x="484.47" y="615.0" width="2.00" height="36.6" fill="#008000"/>
<rect x="485.90" y="620.5" width="2.00" height="31.1" fill="#008000"/>
<rect x="487.33" y="617.7" width="2.00" height="33.9" fill="#008000"/>
<rect x="488.76" y="619.5" width="2.00" height="32.1" fill="#008000"/>
<rect x="490.19" y="625.5" width="2.00" height="26.1" fill="#008000"/>
<rect x="491.62" y="613.5" width="2.00" height="38.1" fill="#008000"/>
<rect x="493.05" y="619.6" width="2.00" height="32.0" fill="#008000"/>
<rect x="494.48" y="636.5" width="2.00" height="15.1" fill="#008000"/>
<rect x="495.91" y="634.9" width="2.00" height="16.7" fill="#008000"/>
<rect x="497.34" y="615.0" width="2.00" height="36.6" fill="#008000"/>
<rect x="498.77" y="610.7" width="2.00" height="40.9" fill="#008000"/>
<rect x="500.20" y="628.7" width="2.00" height="22.9" fill="#008000"/>
<rect x="501.63" y="606.0" width="2.00" height="45.6" fill="#008000"/>
<rect x="503.06" y="621.3" width="2.00" height="30.3" fill="#008000"/>
<rect x="504.49" y="626.5" width="2.00" height="25.1" fill="#008000"/>
<rect x="505.92" y="616.8" width="2.00" height="34.8" fill="#008000"/>
<rect x="507.35" y="633.7" width="2.00" height="17.9" fill="#008000"/>
<rect x="508.78" y="604.0" width="2.00" height="47.6" fill="#008000"/>
<rect x="510.21" y="629.4" width="2.00" height="22.2" fill="#008000"/>
<rect x="511.64" y="636.5" width="2.00" height="15.1" fill="#008000"/>
<rect x="513.07" y="616.6" width="2.00" height="35.0" fill="#008000"/>
<rect x="514.50" y="618.0" width="2.00" height="33.6" fill="#008000"/>
<rect x="515.93" y="626.2" width="2.00" height="25.4" fill="#008000"/>
<rect x="517.36" y="627.6" width="2.00" height="24.0" fill="#008000"/>
<rect x="518.79" y="598.0" width="2.00" height="53.6" fill="#008000"/>
<rect x="520.22" y="627.6" width="2.00" height="24.0" fill="#008000"/>
<rect x="521.65" y="620.8" width="2.00" height="30.8" fill="#008000"/>
<rect x="523.08" y="607.5" width="2.00" height="44.1" fill="#008000"/>
<rect x="524.51" y="616.3" width="2.00" height="35.3" fill="#008000"/>
<rect x="525.94" y="620.5" width="2.00" height="31.1" fill="#008000"/>
<rect x="527.37" y="629.0" width="2.00" height="22.6" fill="#008000"/>
<rect x="528.80" y="626.6" width="2.00" height="25.0" fill="#008000"/>
<rect x="530.23" y="626.2" width="2.00" height="25.4" fill="#008000"/>
<rect x="531.66" y="641.0" width="2.00" height="10.6" fill="#008000"/>
<rect x="533.09" y="626.8" width="2.00" height="24.8" fill="#008000"/>
<rect x="534.52" y="638.3" width="2.00" height="13.3" fill="#008000"/>
<rect x="535.95" y="630.5" width="2.00" height="21.1" fill="#008000"/>
<rect x="537.38" y="628.0" width="2.00" height="23.6" fill="#008000"/>
<rect x="538.81" y="641.0" width="2.00" height="10.6" fill="#008000"/>
<rect x="540.24" y="628.4" width="2.00" height="23.2" fill="#008000"/>
<rect x="541.67" y="628.5" width="2.00" height="23.1" fill="#008000"/>
<rect x="543.10" y="631.3" width="2.00" height="20.3" fill="#008000"/>
<rect x="544.53" y="639.5" width="2.00" height="12.1" fill="#008000"/>
<rect x="545.96" y="630.7" width="2.00" height="20.9" fill="#008000"/>
<rect x="547.39" y="631.3" width="2.00" height="20.3" fill="#008000"/>
<rect x="548.82" y="636.5" width="2.00" height="15.1" fill="#008000"/>
<rect x="550.25" y="631.0" width="2.00" height="20.6" fill="#008000"/>
<rect x="551.68" y="631.0" width="1.52" height="20.6" fill="#008000"/>
</g>
<polyline points="0.0,622.5 5.0,623.0 10.0,627.5 15.0,628.0 22.5,631.0 27.5,633.0 32.5,633.0 40.0,635.5 50.0,637.5 60.0,638.0 70.0,638.0 80.0,637.5 87.5,638.0 95.0,637.0 102.5,635.0 110.0,632.0 116.0,629.0 121.0,629.0 127.5,632.0 135.0,635.0 142.5,638.0 150.0,639.0 167.5,639.0 175.0,642.0 185.0,641.0 195.0,642.5 207.5,642.5 215.0,641.0 225.0,641.0 237.5,641.0 250.0,642.5 257.5,644.0 267.5,642.0 280.0,641.0 290.0,639.0 300.0,638.0 307.5,635.0 315.0,634.5 325.0,636.0 335.0,634.5 345.0,633.0 355.0,633.0 365.0,636.0 372.5,639.0 380.0,635.0 390.0,630.5 400.0,629.0 407.5,632.0 415.0,632.5 425.0,630.5 432.5,624.0 440.0,616.0 445.0,613.0 452.5,612.0 458.6,609.0 466.7,607.0 471.6,611.5 476.0,612.5 481.0,610.0 487.5,614.0 496.0,620.0 503.0,618.0 510.5,623.0 517.7,623.5 525.5,620.0 533.5,624.5 542.0,627.0 548.0,631.5 552.0,635.0" fill="none" stroke="#ff0000" stroke-width="2.0" stroke-linejoin="round" stroke-linecap="round" shape-rendering="crispEdges" />
<rect x="585.6" y="645.1" width="28" height="13" fill="#fff" stroke="#000" stroke-width="1"/>
<text x="587.2" y="654.6" font-size="9.2" fill="#000">x1000</text>
<rect x="584.6" y="657.4" width="48" height="16" fill="#f0f0f0"/>
<rect x="0" y="656.8" width="584.3" height="1.2" fill="#000"/>
<rect x="21.5" y="657" width="1.1" height="16" fill="#000"/>
<rect x="50.5" y="657" width="1.1" height="16" fill="#000"/>
<rect x="84.0" y="657" width="1.1" height="16" fill="#000"/>
<rect x="115.0" y="657" width="1.1" height="16" fill="#000"/>
<rect x="143.5" y="657" width="1.1" height="16" fill="#000"/>
<rect x="175.5" y="657" width="1.1" height="16" fill="#000"/>
<rect x="207.5" y="657" width="1.1" height="16" fill="#000"/>
<rect x="239.0" y="657" width="1.1" height="16" fill="#000"/>
<rect x="292.5" y="657" width="1.1" height="16" fill="#000"/>
<rect x="323.1" y="657" width="1.1" height="16" fill="#000"/>
<rect x="352.1" y="657" width="1.1" height="16" fill="#000"/>
<rect x="381.2" y="657" width="1.1" height="16" fill="#000"/>
<rect x="410.6" y="657" width="1.1" height="16" fill="#000"/>
<rect x="444.6" y="657" width="1.1" height="16" fill="#000"/>
<rect x="474.8" y="657" width="1.1" height="16" fill="#000"/>
<rect x="504.0" y="657" width="1.1" height="16" fill="#000"/>
<rect x="537.0" y="657" width="1.1" height="16" fill="#000"/>
<rect x="566.0" y="657" width="1.1" height="16" fill="#000"/>
<rect x="263.3" y="657.5" width="1" height="2" fill="#000"/>
<clipPath id="cx"><rect x="0" y="657" width="584" height="16"/></clipPath>
<g clip-path="url(#cx)">
<text x="-10.6" y="670.2" font-size="12">May</text>
<text x="23.3" y="670.2" font-size="12">Jun</text>
<text x="52.3" y="670.2" font-size="12">Jul</text>
<text x="85.8" y="670.2" font-size="12">Aug</text>
<text x="116.8" y="670.2" font-size="12">Sep</text>
<text x="145.3" y="670.2" font-size="12">Oct</text>
<text x="177.3" y="670.2" font-size="12">Nov</text>
<text x="209.3" y="670.2" font-size="12">Dec</text>
<text x="240.8" y="670.2" font-size="12">2025</text>
<text x="294.3" y="670.2" font-size="12">Mar</text>
<text x="324.9" y="670.2" font-size="12">Apr</text>
<text x="353.9" y="670.2" font-size="12">May</text>
<text x="383.0" y="670.2" font-size="12">Jun</text>
<text x="412.4" y="670.2" font-size="12">Jul</text>
<text x="446.4" y="670.2" font-size="12">Aug</text>
<text x="476.6" y="670.2" font-size="12">Sep</text>
<text x="505.8" y="670.2" font-size="12">Oct</text>
<text x="538.8" y="670.2" font-size="12">Nov</text>
<text x="567.8" y="670.2" font-size="12">Dec</text>
</g>
</svg>
</body></html>
